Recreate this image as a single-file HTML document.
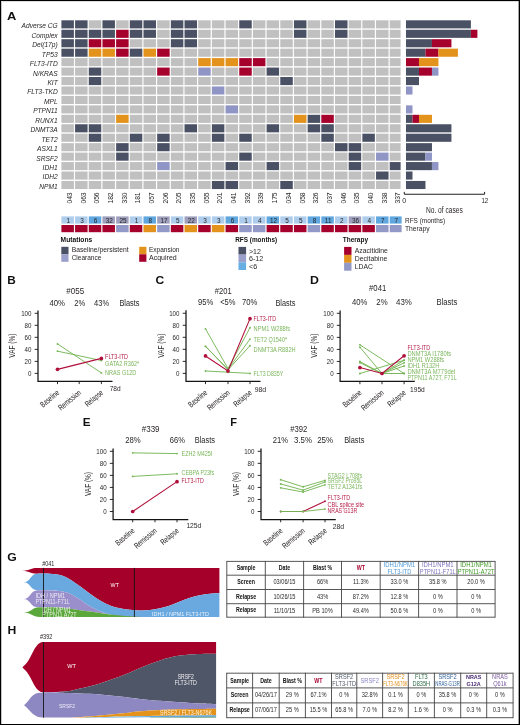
<!DOCTYPE html>
<html><head><meta charset="utf-8"><title>Figure</title><style>
html,body{margin:0;padding:0;background:#fff;}
body{width:520px;height:725px;overflow:hidden;position:relative;}
svg{position:absolute;left:0;top:0;display:block;will-change:transform;}
svg text{font-family:"Liberation Sans", sans-serif;}
</style></head><body>
<svg width="520" height="725" viewBox="0 0 520 725">
<rect width="520" height="725" fill="#fff"/>
<text x="6.95" y="20.30" font-size="11.8" fill="#111" font-weight="bold" textLength="9.31" lengthAdjust="spacingAndGlyphs" >A</text>
<rect x="61.40" y="20.30" width="12.50" height="8.10" fill="#4b5165" />
<rect x="75.08" y="20.30" width="12.50" height="8.10" fill="#4b5165" />
<rect x="88.76" y="20.30" width="12.50" height="8.10" fill="#c0c0c0" />
<rect x="102.44" y="20.30" width="12.50" height="8.10" fill="#4b5165" />
<rect x="116.12" y="20.30" width="12.50" height="8.10" fill="#c0c0c0" />
<rect x="129.80" y="20.30" width="12.50" height="8.10" fill="#4b5165" />
<rect x="143.48" y="20.30" width="12.50" height="8.10" fill="#4b5165" />
<rect x="157.16" y="20.30" width="12.50" height="8.10" fill="#c0c0c0" />
<rect x="170.84" y="20.30" width="12.50" height="8.10" fill="#4b5165" />
<rect x="184.52" y="20.30" width="12.50" height="8.10" fill="#4b5165" />
<rect x="198.20" y="20.30" width="12.50" height="8.10" fill="#c0c0c0" />
<rect x="211.88" y="20.30" width="12.50" height="8.10" fill="#c0c0c0" />
<rect x="225.56" y="20.30" width="12.50" height="8.10" fill="#c0c0c0" />
<rect x="239.24" y="20.30" width="12.50" height="8.10" fill="#4b5165" />
<rect x="252.92" y="20.30" width="12.50" height="8.10" fill="#c0c0c0" />
<rect x="266.60" y="20.30" width="12.50" height="8.10" fill="#c0c0c0" />
<rect x="280.28" y="20.30" width="12.50" height="8.10" fill="#c0c0c0" />
<rect x="293.96" y="20.30" width="12.50" height="8.10" fill="#4b5165" />
<rect x="307.64" y="20.30" width="12.50" height="8.10" fill="#c0c0c0" />
<rect x="321.32" y="20.30" width="12.50" height="8.10" fill="#c0c0c0" />
<rect x="335.00" y="20.30" width="12.50" height="8.10" fill="#4b5165" />
<rect x="348.68" y="20.30" width="12.50" height="8.10" fill="#c0c0c0" />
<rect x="362.36" y="20.30" width="12.50" height="8.10" fill="#c0c0c0" />
<rect x="376.04" y="20.30" width="12.50" height="8.10" fill="#c0c0c0" />
<rect x="389.72" y="20.30" width="10.90" height="8.10" fill="#c0c0c0" />
<text x="57.70" y="28.25" font-size="6.8" fill="#231f20" text-anchor="end" font-style="italic" textLength="36.11" lengthAdjust="spacingAndGlyphs" >Adverse CG</text>
<rect x="61.40" y="29.75" width="12.50" height="8.10" fill="#4b5165" />
<rect x="75.08" y="29.75" width="12.50" height="8.10" fill="#4b5165" />
<rect x="88.76" y="29.75" width="12.50" height="8.10" fill="#4b5165" />
<rect x="102.44" y="29.75" width="12.50" height="8.10" fill="#4b5165" />
<rect x="116.12" y="29.75" width="12.50" height="8.10" fill="#a6002c" />
<rect x="129.80" y="29.75" width="12.50" height="8.10" fill="#4b5165" />
<rect x="143.48" y="29.75" width="12.50" height="8.10" fill="#4b5165" />
<rect x="157.16" y="29.75" width="12.50" height="8.10" fill="#c0c0c0" />
<rect x="170.84" y="29.75" width="12.50" height="8.10" fill="#4b5165" />
<rect x="184.52" y="29.75" width="12.50" height="8.10" fill="#4b5165" />
<rect x="198.20" y="29.75" width="12.50" height="8.10" fill="#c0c0c0" />
<rect x="211.88" y="29.75" width="12.50" height="8.10" fill="#c0c0c0" />
<rect x="225.56" y="29.75" width="12.50" height="8.10" fill="#c0c0c0" />
<rect x="239.24" y="29.75" width="12.50" height="8.10" fill="#c0c0c0" />
<rect x="252.92" y="29.75" width="12.50" height="8.10" fill="#c0c0c0" />
<rect x="266.60" y="29.75" width="12.50" height="8.10" fill="#c0c0c0" />
<rect x="280.28" y="29.75" width="12.50" height="8.10" fill="#c0c0c0" />
<rect x="293.96" y="29.75" width="12.50" height="8.10" fill="#4b5165" />
<rect x="307.64" y="29.75" width="12.50" height="8.10" fill="#c0c0c0" />
<rect x="321.32" y="29.75" width="12.50" height="8.10" fill="#c0c0c0" />
<rect x="335.00" y="29.75" width="12.50" height="8.10" fill="#4b5165" />
<rect x="348.68" y="29.75" width="12.50" height="8.10" fill="#c0c0c0" />
<rect x="362.36" y="29.75" width="12.50" height="8.10" fill="#c0c0c0" />
<rect x="376.04" y="29.75" width="12.50" height="8.10" fill="#c0c0c0" />
<rect x="389.72" y="29.75" width="10.90" height="8.10" fill="#c0c0c0" />
<text x="57.70" y="37.70" font-size="6.8" fill="#231f20" text-anchor="end" font-style="italic" textLength="26.16" lengthAdjust="spacingAndGlyphs" >Complex</text>
<rect x="61.40" y="39.20" width="12.50" height="8.10" fill="#4b5165" />
<rect x="75.08" y="39.20" width="12.50" height="8.10" fill="#4b5165" />
<rect x="88.76" y="39.20" width="12.50" height="8.10" fill="#a6002c" />
<rect x="102.44" y="39.20" width="12.50" height="8.10" fill="#a6002c" />
<rect x="116.12" y="39.20" width="12.50" height="8.10" fill="#a6002c" />
<rect x="129.80" y="39.20" width="12.50" height="8.10" fill="#c0c0c0" />
<rect x="143.48" y="39.20" width="12.50" height="8.10" fill="#c0c0c0" />
<rect x="157.16" y="39.20" width="12.50" height="8.10" fill="#c0c0c0" />
<rect x="170.84" y="39.20" width="12.50" height="8.10" fill="#4b5165" />
<rect x="184.52" y="39.20" width="12.50" height="8.10" fill="#4b5165" />
<rect x="198.20" y="39.20" width="12.50" height="8.10" fill="#c0c0c0" />
<rect x="211.88" y="39.20" width="12.50" height="8.10" fill="#c0c0c0" />
<rect x="225.56" y="39.20" width="12.50" height="8.10" fill="#c0c0c0" />
<rect x="239.24" y="39.20" width="12.50" height="8.10" fill="#c0c0c0" />
<rect x="252.92" y="39.20" width="12.50" height="8.10" fill="#c0c0c0" />
<rect x="266.60" y="39.20" width="12.50" height="8.10" fill="#c0c0c0" />
<rect x="280.28" y="39.20" width="12.50" height="8.10" fill="#c0c0c0" />
<rect x="293.96" y="39.20" width="12.50" height="8.10" fill="#c0c0c0" />
<rect x="307.64" y="39.20" width="12.50" height="8.10" fill="#c0c0c0" />
<rect x="321.32" y="39.20" width="12.50" height="8.10" fill="#c0c0c0" />
<rect x="335.00" y="39.20" width="12.50" height="8.10" fill="#c0c0c0" />
<rect x="348.68" y="39.20" width="12.50" height="8.10" fill="#c0c0c0" />
<rect x="362.36" y="39.20" width="12.50" height="8.10" fill="#c0c0c0" />
<rect x="376.04" y="39.20" width="12.50" height="8.10" fill="#c0c0c0" />
<rect x="389.72" y="39.20" width="10.90" height="8.10" fill="#c0c0c0" />
<text x="57.70" y="47.15" font-size="6.8" fill="#231f20" text-anchor="end" font-style="italic" textLength="25.43" lengthAdjust="spacingAndGlyphs" >Del(17p)</text>
<rect x="61.40" y="48.65" width="12.50" height="8.10" fill="#4b5165" />
<rect x="75.08" y="48.65" width="12.50" height="8.10" fill="#4b5165" />
<rect x="88.76" y="48.65" width="12.50" height="8.10" fill="#e3931b" />
<rect x="102.44" y="48.65" width="12.50" height="8.10" fill="#e3931b" />
<rect x="116.12" y="48.65" width="12.50" height="8.10" fill="#a6002c" />
<rect x="129.80" y="48.65" width="12.50" height="8.10" fill="#4b5165" />
<rect x="143.48" y="48.65" width="12.50" height="8.10" fill="#e3931b" />
<rect x="157.16" y="48.65" width="12.50" height="8.10" fill="#a6002c" />
<rect x="170.84" y="48.65" width="12.50" height="8.10" fill="#c0c0c0" />
<rect x="184.52" y="48.65" width="12.50" height="8.10" fill="#c0c0c0" />
<rect x="198.20" y="48.65" width="12.50" height="8.10" fill="#c0c0c0" />
<rect x="211.88" y="48.65" width="12.50" height="8.10" fill="#c0c0c0" />
<rect x="225.56" y="48.65" width="12.50" height="8.10" fill="#c0c0c0" />
<rect x="239.24" y="48.65" width="12.50" height="8.10" fill="#c0c0c0" />
<rect x="252.92" y="48.65" width="12.50" height="8.10" fill="#c0c0c0" />
<rect x="266.60" y="48.65" width="12.50" height="8.10" fill="#c0c0c0" />
<rect x="280.28" y="48.65" width="12.50" height="8.10" fill="#c0c0c0" />
<rect x="293.96" y="48.65" width="12.50" height="8.10" fill="#c0c0c0" />
<rect x="307.64" y="48.65" width="12.50" height="8.10" fill="#c0c0c0" />
<rect x="321.32" y="48.65" width="12.50" height="8.10" fill="#c0c0c0" />
<rect x="335.00" y="48.65" width="12.50" height="8.10" fill="#c0c0c0" />
<rect x="348.68" y="48.65" width="12.50" height="8.10" fill="#c0c0c0" />
<rect x="362.36" y="48.65" width="12.50" height="8.10" fill="#c0c0c0" />
<rect x="376.04" y="48.65" width="12.50" height="8.10" fill="#c0c0c0" />
<rect x="389.72" y="48.65" width="10.90" height="8.10" fill="#c0c0c0" />
<text x="57.70" y="56.60" font-size="6.8" fill="#231f20" text-anchor="end" font-style="italic" textLength="15.85" lengthAdjust="spacingAndGlyphs" >TP53</text>
<rect x="61.40" y="58.10" width="12.50" height="8.10" fill="#c0c0c0" />
<rect x="75.08" y="58.10" width="12.50" height="8.10" fill="#c0c0c0" />
<rect x="88.76" y="58.10" width="12.50" height="8.10" fill="#c0c0c0" />
<rect x="102.44" y="58.10" width="12.50" height="8.10" fill="#c0c0c0" />
<rect x="116.12" y="58.10" width="12.50" height="8.10" fill="#c0c0c0" />
<rect x="129.80" y="58.10" width="12.50" height="8.10" fill="#c0c0c0" />
<rect x="143.48" y="58.10" width="12.50" height="8.10" fill="#c0c0c0" />
<rect x="157.16" y="58.10" width="12.50" height="8.10" fill="#c0c0c0" />
<rect x="170.84" y="58.10" width="12.50" height="8.10" fill="#c0c0c0" />
<rect x="184.52" y="58.10" width="12.50" height="8.10" fill="#c0c0c0" />
<rect x="198.20" y="58.10" width="12.50" height="8.10" fill="#e3931b" />
<rect x="211.88" y="58.10" width="12.50" height="8.10" fill="#e3931b" />
<rect x="225.56" y="58.10" width="12.50" height="8.10" fill="#e3931b" />
<rect x="239.24" y="58.10" width="12.50" height="8.10" fill="#a6002c" />
<rect x="252.92" y="58.10" width="12.50" height="8.10" fill="#a6002c" />
<rect x="266.60" y="58.10" width="12.50" height="8.10" fill="#c0c0c0" />
<rect x="280.28" y="58.10" width="12.50" height="8.10" fill="#c0c0c0" />
<rect x="293.96" y="58.10" width="12.50" height="8.10" fill="#c0c0c0" />
<rect x="307.64" y="58.10" width="12.50" height="8.10" fill="#c0c0c0" />
<rect x="321.32" y="58.10" width="12.50" height="8.10" fill="#c0c0c0" />
<rect x="335.00" y="58.10" width="12.50" height="8.10" fill="#c0c0c0" />
<rect x="348.68" y="58.10" width="12.50" height="8.10" fill="#c0c0c0" />
<rect x="362.36" y="58.10" width="12.50" height="8.10" fill="#c0c0c0" />
<rect x="376.04" y="58.10" width="12.50" height="8.10" fill="#c0c0c0" />
<rect x="389.72" y="58.10" width="10.90" height="8.10" fill="#c0c0c0" />
<text x="57.70" y="66.05" font-size="6.8" fill="#231f20" text-anchor="end" font-style="italic" textLength="27.87" lengthAdjust="spacingAndGlyphs" >FLT3-ITD</text>
<rect x="61.40" y="67.55" width="12.50" height="8.10" fill="#c0c0c0" />
<rect x="75.08" y="67.55" width="12.50" height="8.10" fill="#c0c0c0" />
<rect x="88.76" y="67.55" width="12.50" height="8.10" fill="#4b5165" />
<rect x="102.44" y="67.55" width="12.50" height="8.10" fill="#c0c0c0" />
<rect x="116.12" y="67.55" width="12.50" height="8.10" fill="#c0c0c0" />
<rect x="129.80" y="67.55" width="12.50" height="8.10" fill="#c0c0c0" />
<rect x="143.48" y="67.55" width="12.50" height="8.10" fill="#c0c0c0" />
<rect x="157.16" y="67.55" width="12.50" height="8.10" fill="#a6002c" />
<rect x="170.84" y="67.55" width="12.50" height="8.10" fill="#c0c0c0" />
<rect x="184.52" y="67.55" width="12.50" height="8.10" fill="#c0c0c0" />
<rect x="198.20" y="67.55" width="12.50" height="8.10" fill="#8f96c6" />
<rect x="211.88" y="67.55" width="12.50" height="8.10" fill="#c0c0c0" />
<rect x="225.56" y="67.55" width="12.50" height="8.10" fill="#c0c0c0" />
<rect x="239.24" y="67.55" width="12.50" height="8.10" fill="#a6002c" />
<rect x="252.92" y="67.55" width="12.50" height="8.10" fill="#c0c0c0" />
<rect x="266.60" y="67.55" width="12.50" height="8.10" fill="#4b5165" />
<rect x="280.28" y="67.55" width="12.50" height="8.10" fill="#c0c0c0" />
<rect x="293.96" y="67.55" width="12.50" height="8.10" fill="#c0c0c0" />
<rect x="307.64" y="67.55" width="12.50" height="8.10" fill="#c0c0c0" />
<rect x="321.32" y="67.55" width="12.50" height="8.10" fill="#c0c0c0" />
<rect x="335.00" y="67.55" width="12.50" height="8.10" fill="#c0c0c0" />
<rect x="348.68" y="67.55" width="12.50" height="8.10" fill="#c0c0c0" />
<rect x="362.36" y="67.55" width="12.50" height="8.10" fill="#c0c0c0" />
<rect x="376.04" y="67.55" width="12.50" height="8.10" fill="#c0c0c0" />
<rect x="389.72" y="67.55" width="10.90" height="8.10" fill="#c0c0c0" />
<text x="57.70" y="75.50" font-size="6.8" fill="#231f20" text-anchor="end" font-style="italic" textLength="24.68" lengthAdjust="spacingAndGlyphs" >N/KRAS</text>
<rect x="61.40" y="77.00" width="12.50" height="8.10" fill="#c0c0c0" />
<rect x="75.08" y="77.00" width="12.50" height="8.10" fill="#c0c0c0" />
<rect x="88.76" y="77.00" width="12.50" height="8.10" fill="#4b5165" />
<rect x="102.44" y="77.00" width="12.50" height="8.10" fill="#c0c0c0" />
<rect x="116.12" y="77.00" width="12.50" height="8.10" fill="#c0c0c0" />
<rect x="129.80" y="77.00" width="12.50" height="8.10" fill="#c0c0c0" />
<rect x="143.48" y="77.00" width="12.50" height="8.10" fill="#c0c0c0" />
<rect x="157.16" y="77.00" width="12.50" height="8.10" fill="#c0c0c0" />
<rect x="170.84" y="77.00" width="12.50" height="8.10" fill="#c0c0c0" />
<rect x="184.52" y="77.00" width="12.50" height="8.10" fill="#c0c0c0" />
<rect x="198.20" y="77.00" width="12.50" height="8.10" fill="#c0c0c0" />
<rect x="211.88" y="77.00" width="12.50" height="8.10" fill="#c0c0c0" />
<rect x="225.56" y="77.00" width="12.50" height="8.10" fill="#c0c0c0" />
<rect x="239.24" y="77.00" width="12.50" height="8.10" fill="#c0c0c0" />
<rect x="252.92" y="77.00" width="12.50" height="8.10" fill="#c0c0c0" />
<rect x="266.60" y="77.00" width="12.50" height="8.10" fill="#c0c0c0" />
<rect x="280.28" y="77.00" width="12.50" height="8.10" fill="#4b5165" />
<rect x="293.96" y="77.00" width="12.50" height="8.10" fill="#c0c0c0" />
<rect x="307.64" y="77.00" width="12.50" height="8.10" fill="#c0c0c0" />
<rect x="321.32" y="77.00" width="12.50" height="8.10" fill="#c0c0c0" />
<rect x="335.00" y="77.00" width="12.50" height="8.10" fill="#c0c0c0" />
<rect x="348.68" y="77.00" width="12.50" height="8.10" fill="#c0c0c0" />
<rect x="362.36" y="77.00" width="12.50" height="8.10" fill="#c0c0c0" />
<rect x="376.04" y="77.00" width="12.50" height="8.10" fill="#c0c0c0" />
<rect x="389.72" y="77.00" width="10.90" height="8.10" fill="#c0c0c0" />
<text x="57.70" y="84.95" font-size="6.8" fill="#231f20" text-anchor="end" font-style="italic" textLength="10.31" lengthAdjust="spacingAndGlyphs" >KIT</text>
<rect x="61.40" y="86.45" width="12.50" height="8.10" fill="#c0c0c0" />
<rect x="75.08" y="86.45" width="12.50" height="8.10" fill="#c0c0c0" />
<rect x="88.76" y="86.45" width="12.50" height="8.10" fill="#c0c0c0" />
<rect x="102.44" y="86.45" width="12.50" height="8.10" fill="#c0c0c0" />
<rect x="116.12" y="86.45" width="12.50" height="8.10" fill="#c0c0c0" />
<rect x="129.80" y="86.45" width="12.50" height="8.10" fill="#c0c0c0" />
<rect x="143.48" y="86.45" width="12.50" height="8.10" fill="#c0c0c0" />
<rect x="157.16" y="86.45" width="12.50" height="8.10" fill="#c0c0c0" />
<rect x="170.84" y="86.45" width="12.50" height="8.10" fill="#c0c0c0" />
<rect x="184.52" y="86.45" width="12.50" height="8.10" fill="#c0c0c0" />
<rect x="198.20" y="86.45" width="12.50" height="8.10" fill="#c0c0c0" />
<rect x="211.88" y="86.45" width="12.50" height="8.10" fill="#8f96c6" />
<rect x="225.56" y="86.45" width="12.50" height="8.10" fill="#c0c0c0" />
<rect x="239.24" y="86.45" width="12.50" height="8.10" fill="#c0c0c0" />
<rect x="252.92" y="86.45" width="12.50" height="8.10" fill="#c0c0c0" />
<rect x="266.60" y="86.45" width="12.50" height="8.10" fill="#c0c0c0" />
<rect x="280.28" y="86.45" width="12.50" height="8.10" fill="#c0c0c0" />
<rect x="293.96" y="86.45" width="12.50" height="8.10" fill="#c0c0c0" />
<rect x="307.64" y="86.45" width="12.50" height="8.10" fill="#c0c0c0" />
<rect x="321.32" y="86.45" width="12.50" height="8.10" fill="#c0c0c0" />
<rect x="335.00" y="86.45" width="12.50" height="8.10" fill="#c0c0c0" />
<rect x="348.68" y="86.45" width="12.50" height="8.10" fill="#c0c0c0" />
<rect x="362.36" y="86.45" width="12.50" height="8.10" fill="#c0c0c0" />
<rect x="376.04" y="86.45" width="12.50" height="8.10" fill="#c0c0c0" />
<rect x="389.72" y="86.45" width="10.90" height="8.10" fill="#c0c0c0" />
<text x="57.70" y="94.40" font-size="6.8" fill="#231f20" text-anchor="end" font-style="italic" textLength="30.45" lengthAdjust="spacingAndGlyphs" >FLT3-TKD</text>
<rect x="61.40" y="95.90" width="12.50" height="8.10" fill="#c0c0c0" />
<rect x="75.08" y="95.90" width="12.50" height="8.10" fill="#c0c0c0" />
<rect x="88.76" y="95.90" width="12.50" height="8.10" fill="#c0c0c0" />
<rect x="102.44" y="95.90" width="12.50" height="8.10" fill="#c0c0c0" />
<rect x="116.12" y="95.90" width="12.50" height="8.10" fill="#c0c0c0" />
<rect x="129.80" y="95.90" width="12.50" height="8.10" fill="#c0c0c0" />
<rect x="143.48" y="95.90" width="12.50" height="8.10" fill="#c0c0c0" />
<rect x="157.16" y="95.90" width="12.50" height="8.10" fill="#c0c0c0" />
<rect x="170.84" y="95.90" width="12.50" height="8.10" fill="#c0c0c0" />
<rect x="184.52" y="95.90" width="12.50" height="8.10" fill="#c0c0c0" />
<rect x="198.20" y="95.90" width="12.50" height="8.10" fill="#c0c0c0" />
<rect x="211.88" y="95.90" width="12.50" height="8.10" fill="#c0c0c0" />
<rect x="225.56" y="95.90" width="12.50" height="8.10" fill="#c0c0c0" />
<rect x="239.24" y="95.90" width="12.50" height="8.10" fill="#c0c0c0" />
<rect x="252.92" y="95.90" width="12.50" height="8.10" fill="#c0c0c0" />
<rect x="266.60" y="95.90" width="12.50" height="8.10" fill="#c0c0c0" />
<rect x="280.28" y="95.90" width="12.50" height="8.10" fill="#c0c0c0" />
<rect x="293.96" y="95.90" width="12.50" height="8.10" fill="#c0c0c0" />
<rect x="307.64" y="95.90" width="12.50" height="8.10" fill="#c0c0c0" />
<rect x="321.32" y="95.90" width="12.50" height="8.10" fill="#c0c0c0" />
<rect x="335.00" y="95.90" width="12.50" height="8.10" fill="#c0c0c0" />
<rect x="348.68" y="95.90" width="12.50" height="8.10" fill="#c0c0c0" />
<rect x="362.36" y="95.90" width="12.50" height="8.10" fill="#c0c0c0" />
<rect x="376.04" y="95.90" width="12.50" height="8.10" fill="#c0c0c0" />
<rect x="389.72" y="95.90" width="10.90" height="8.10" fill="#c0c0c0" />
<text x="57.70" y="103.85" font-size="6.8" fill="#231f20" text-anchor="end" font-style="italic" textLength="13.63" lengthAdjust="spacingAndGlyphs" >MPL</text>
<rect x="61.40" y="105.35" width="12.50" height="8.10" fill="#c0c0c0" />
<rect x="75.08" y="105.35" width="12.50" height="8.10" fill="#c0c0c0" />
<rect x="88.76" y="105.35" width="12.50" height="8.10" fill="#c0c0c0" />
<rect x="102.44" y="105.35" width="12.50" height="8.10" fill="#c0c0c0" />
<rect x="116.12" y="105.35" width="12.50" height="8.10" fill="#c0c0c0" />
<rect x="129.80" y="105.35" width="12.50" height="8.10" fill="#c0c0c0" />
<rect x="143.48" y="105.35" width="12.50" height="8.10" fill="#c0c0c0" />
<rect x="157.16" y="105.35" width="12.50" height="8.10" fill="#c0c0c0" />
<rect x="170.84" y="105.35" width="12.50" height="8.10" fill="#c0c0c0" />
<rect x="184.52" y="105.35" width="12.50" height="8.10" fill="#c0c0c0" />
<rect x="198.20" y="105.35" width="12.50" height="8.10" fill="#c0c0c0" />
<rect x="211.88" y="105.35" width="12.50" height="8.10" fill="#c0c0c0" />
<rect x="225.56" y="105.35" width="12.50" height="8.10" fill="#8f96c6" />
<rect x="239.24" y="105.35" width="12.50" height="8.10" fill="#c0c0c0" />
<rect x="252.92" y="105.35" width="12.50" height="8.10" fill="#c0c0c0" />
<rect x="266.60" y="105.35" width="12.50" height="8.10" fill="#c0c0c0" />
<rect x="280.28" y="105.35" width="12.50" height="8.10" fill="#c0c0c0" />
<rect x="293.96" y="105.35" width="12.50" height="8.10" fill="#c0c0c0" />
<rect x="307.64" y="105.35" width="12.50" height="8.10" fill="#c0c0c0" />
<rect x="321.32" y="105.35" width="12.50" height="8.10" fill="#c0c0c0" />
<rect x="335.00" y="105.35" width="12.50" height="8.10" fill="#c0c0c0" />
<rect x="348.68" y="105.35" width="12.50" height="8.10" fill="#c0c0c0" />
<rect x="362.36" y="105.35" width="12.50" height="8.10" fill="#c0c0c0" />
<rect x="376.04" y="105.35" width="12.50" height="8.10" fill="#c0c0c0" />
<rect x="389.72" y="105.35" width="10.90" height="8.10" fill="#c0c0c0" />
<text x="57.70" y="113.30" font-size="6.8" fill="#231f20" text-anchor="end" font-style="italic" textLength="24.56" lengthAdjust="spacingAndGlyphs" >PTPN11</text>
<rect x="61.40" y="114.80" width="12.50" height="8.10" fill="#c0c0c0" />
<rect x="75.08" y="114.80" width="12.50" height="8.10" fill="#c0c0c0" />
<rect x="88.76" y="114.80" width="12.50" height="8.10" fill="#c0c0c0" />
<rect x="102.44" y="114.80" width="12.50" height="8.10" fill="#c0c0c0" />
<rect x="116.12" y="114.80" width="12.50" height="8.10" fill="#e3931b" />
<rect x="129.80" y="114.80" width="12.50" height="8.10" fill="#c0c0c0" />
<rect x="143.48" y="114.80" width="12.50" height="8.10" fill="#c0c0c0" />
<rect x="157.16" y="114.80" width="12.50" height="8.10" fill="#c0c0c0" />
<rect x="170.84" y="114.80" width="12.50" height="8.10" fill="#c0c0c0" />
<rect x="184.52" y="114.80" width="12.50" height="8.10" fill="#c0c0c0" />
<rect x="198.20" y="114.80" width="12.50" height="8.10" fill="#c0c0c0" />
<rect x="211.88" y="114.80" width="12.50" height="8.10" fill="#c0c0c0" />
<rect x="225.56" y="114.80" width="12.50" height="8.10" fill="#c0c0c0" />
<rect x="239.24" y="114.80" width="12.50" height="8.10" fill="#c0c0c0" />
<rect x="252.92" y="114.80" width="12.50" height="8.10" fill="#c0c0c0" />
<rect x="266.60" y="114.80" width="12.50" height="8.10" fill="#c0c0c0" />
<rect x="280.28" y="114.80" width="12.50" height="8.10" fill="#c0c0c0" />
<rect x="293.96" y="114.80" width="12.50" height="8.10" fill="#e3931b" />
<rect x="307.64" y="114.80" width="12.50" height="8.10" fill="#4b5165" />
<rect x="321.32" y="114.80" width="12.50" height="8.10" fill="#a6002c" />
<rect x="335.00" y="114.80" width="12.50" height="8.10" fill="#c0c0c0" />
<rect x="348.68" y="114.80" width="12.50" height="8.10" fill="#c0c0c0" />
<rect x="362.36" y="114.80" width="12.50" height="8.10" fill="#c0c0c0" />
<rect x="376.04" y="114.80" width="12.50" height="8.10" fill="#c0c0c0" />
<rect x="389.72" y="114.80" width="10.90" height="8.10" fill="#c0c0c0" />
<text x="57.70" y="122.75" font-size="6.8" fill="#231f20" text-anchor="end" font-style="italic" textLength="22.47" lengthAdjust="spacingAndGlyphs" >RUNX1</text>
<rect x="61.40" y="124.25" width="12.50" height="8.10" fill="#c0c0c0" />
<rect x="75.08" y="124.25" width="12.50" height="8.10" fill="#4b5165" />
<rect x="88.76" y="124.25" width="12.50" height="8.10" fill="#4b5165" />
<rect x="102.44" y="124.25" width="12.50" height="8.10" fill="#c0c0c0" />
<rect x="116.12" y="124.25" width="12.50" height="8.10" fill="#c0c0c0" />
<rect x="129.80" y="124.25" width="12.50" height="8.10" fill="#c0c0c0" />
<rect x="143.48" y="124.25" width="12.50" height="8.10" fill="#c0c0c0" />
<rect x="157.16" y="124.25" width="12.50" height="8.10" fill="#c0c0c0" />
<rect x="170.84" y="124.25" width="12.50" height="8.10" fill="#c0c0c0" />
<rect x="184.52" y="124.25" width="12.50" height="8.10" fill="#4b5165" />
<rect x="198.20" y="124.25" width="12.50" height="8.10" fill="#c0c0c0" />
<rect x="211.88" y="124.25" width="12.50" height="8.10" fill="#4b5165" />
<rect x="225.56" y="124.25" width="12.50" height="8.10" fill="#c0c0c0" />
<rect x="239.24" y="124.25" width="12.50" height="8.10" fill="#c0c0c0" />
<rect x="252.92" y="124.25" width="12.50" height="8.10" fill="#c0c0c0" />
<rect x="266.60" y="124.25" width="12.50" height="8.10" fill="#4b5165" />
<rect x="280.28" y="124.25" width="12.50" height="8.10" fill="#c0c0c0" />
<rect x="293.96" y="124.25" width="12.50" height="8.10" fill="#c0c0c0" />
<rect x="307.64" y="124.25" width="12.50" height="8.10" fill="#4b5165" />
<rect x="321.32" y="124.25" width="12.50" height="8.10" fill="#4b5165" />
<rect x="335.00" y="124.25" width="12.50" height="8.10" fill="#c0c0c0" />
<rect x="348.68" y="124.25" width="12.50" height="8.10" fill="#c0c0c0" />
<rect x="362.36" y="124.25" width="12.50" height="8.10" fill="#c0c0c0" />
<rect x="376.04" y="124.25" width="12.50" height="8.10" fill="#c0c0c0" />
<rect x="389.72" y="124.25" width="10.90" height="8.10" fill="#c0c0c0" />
<text x="57.70" y="132.20" font-size="6.8" fill="#231f20" text-anchor="end" font-style="italic" textLength="27.26" lengthAdjust="spacingAndGlyphs" >DNMT3A</text>
<rect x="61.40" y="133.70" width="12.50" height="8.10" fill="#c0c0c0" />
<rect x="75.08" y="133.70" width="12.50" height="8.10" fill="#c0c0c0" />
<rect x="88.76" y="133.70" width="12.50" height="8.10" fill="#4b5165" />
<rect x="102.44" y="133.70" width="12.50" height="8.10" fill="#c0c0c0" />
<rect x="116.12" y="133.70" width="12.50" height="8.10" fill="#c0c0c0" />
<rect x="129.80" y="133.70" width="12.50" height="8.10" fill="#4b5165" />
<rect x="143.48" y="133.70" width="12.50" height="8.10" fill="#c0c0c0" />
<rect x="157.16" y="133.70" width="12.50" height="8.10" fill="#4b5165" />
<rect x="170.84" y="133.70" width="12.50" height="8.10" fill="#c0c0c0" />
<rect x="184.52" y="133.70" width="12.50" height="8.10" fill="#c0c0c0" />
<rect x="198.20" y="133.70" width="12.50" height="8.10" fill="#c0c0c0" />
<rect x="211.88" y="133.70" width="12.50" height="8.10" fill="#4b5165" />
<rect x="225.56" y="133.70" width="12.50" height="8.10" fill="#c0c0c0" />
<rect x="239.24" y="133.70" width="12.50" height="8.10" fill="#4b5165" />
<rect x="252.92" y="133.70" width="12.50" height="8.10" fill="#c0c0c0" />
<rect x="266.60" y="133.70" width="12.50" height="8.10" fill="#c0c0c0" />
<rect x="280.28" y="133.70" width="12.50" height="8.10" fill="#c0c0c0" />
<rect x="293.96" y="133.70" width="12.50" height="8.10" fill="#c0c0c0" />
<rect x="307.64" y="133.70" width="12.50" height="8.10" fill="#c0c0c0" />
<rect x="321.32" y="133.70" width="12.50" height="8.10" fill="#4b5165" />
<rect x="335.00" y="133.70" width="12.50" height="8.10" fill="#c0c0c0" />
<rect x="348.68" y="133.70" width="12.50" height="8.10" fill="#c0c0c0" />
<rect x="362.36" y="133.70" width="12.50" height="8.10" fill="#4b5165" />
<rect x="376.04" y="133.70" width="12.50" height="8.10" fill="#c0c0c0" />
<rect x="389.72" y="133.70" width="10.90" height="8.10" fill="#c0c0c0" />
<text x="57.70" y="141.65" font-size="6.8" fill="#231f20" text-anchor="end" font-style="italic" textLength="16.21" lengthAdjust="spacingAndGlyphs" >TET2</text>
<rect x="61.40" y="143.15" width="12.50" height="8.10" fill="#c0c0c0" />
<rect x="75.08" y="143.15" width="12.50" height="8.10" fill="#c0c0c0" />
<rect x="88.76" y="143.15" width="12.50" height="8.10" fill="#c0c0c0" />
<rect x="102.44" y="143.15" width="12.50" height="8.10" fill="#c0c0c0" />
<rect x="116.12" y="143.15" width="12.50" height="8.10" fill="#4b5165" />
<rect x="129.80" y="143.15" width="12.50" height="8.10" fill="#c0c0c0" />
<rect x="143.48" y="143.15" width="12.50" height="8.10" fill="#c0c0c0" />
<rect x="157.16" y="143.15" width="12.50" height="8.10" fill="#4b5165" />
<rect x="170.84" y="143.15" width="12.50" height="8.10" fill="#c0c0c0" />
<rect x="184.52" y="143.15" width="12.50" height="8.10" fill="#c0c0c0" />
<rect x="198.20" y="143.15" width="12.50" height="8.10" fill="#c0c0c0" />
<rect x="211.88" y="143.15" width="12.50" height="8.10" fill="#c0c0c0" />
<rect x="225.56" y="143.15" width="12.50" height="8.10" fill="#c0c0c0" />
<rect x="239.24" y="143.15" width="12.50" height="8.10" fill="#c0c0c0" />
<rect x="252.92" y="143.15" width="12.50" height="8.10" fill="#c0c0c0" />
<rect x="266.60" y="143.15" width="12.50" height="8.10" fill="#c0c0c0" />
<rect x="280.28" y="143.15" width="12.50" height="8.10" fill="#c0c0c0" />
<rect x="293.96" y="143.15" width="12.50" height="8.10" fill="#c0c0c0" />
<rect x="307.64" y="143.15" width="12.50" height="8.10" fill="#c0c0c0" />
<rect x="321.32" y="143.15" width="12.50" height="8.10" fill="#c0c0c0" />
<rect x="335.00" y="143.15" width="12.50" height="8.10" fill="#4b5165" />
<rect x="348.68" y="143.15" width="12.50" height="8.10" fill="#4b5165" />
<rect x="362.36" y="143.15" width="12.50" height="8.10" fill="#c0c0c0" />
<rect x="376.04" y="143.15" width="12.50" height="8.10" fill="#c0c0c0" />
<rect x="389.72" y="143.15" width="10.90" height="8.10" fill="#c0c0c0" />
<text x="57.70" y="151.10" font-size="6.8" fill="#231f20" text-anchor="end" font-style="italic" textLength="20.64" lengthAdjust="spacingAndGlyphs" >ASXL1</text>
<rect x="61.40" y="152.60" width="12.50" height="8.10" fill="#c0c0c0" />
<rect x="75.08" y="152.60" width="12.50" height="8.10" fill="#c0c0c0" />
<rect x="88.76" y="152.60" width="12.50" height="8.10" fill="#c0c0c0" />
<rect x="102.44" y="152.60" width="12.50" height="8.10" fill="#c0c0c0" />
<rect x="116.12" y="152.60" width="12.50" height="8.10" fill="#4b5165" />
<rect x="129.80" y="152.60" width="12.50" height="8.10" fill="#c0c0c0" />
<rect x="143.48" y="152.60" width="12.50" height="8.10" fill="#c0c0c0" />
<rect x="157.16" y="152.60" width="12.50" height="8.10" fill="#c0c0c0" />
<rect x="170.84" y="152.60" width="12.50" height="8.10" fill="#c0c0c0" />
<rect x="184.52" y="152.60" width="12.50" height="8.10" fill="#c0c0c0" />
<rect x="198.20" y="152.60" width="12.50" height="8.10" fill="#c0c0c0" />
<rect x="211.88" y="152.60" width="12.50" height="8.10" fill="#c0c0c0" />
<rect x="225.56" y="152.60" width="12.50" height="8.10" fill="#c0c0c0" />
<rect x="239.24" y="152.60" width="12.50" height="8.10" fill="#4b5165" />
<rect x="252.92" y="152.60" width="12.50" height="8.10" fill="#c0c0c0" />
<rect x="266.60" y="152.60" width="12.50" height="8.10" fill="#c0c0c0" />
<rect x="280.28" y="152.60" width="12.50" height="8.10" fill="#c0c0c0" />
<rect x="293.96" y="152.60" width="12.50" height="8.10" fill="#c0c0c0" />
<rect x="307.64" y="152.60" width="12.50" height="8.10" fill="#c0c0c0" />
<rect x="321.32" y="152.60" width="12.50" height="8.10" fill="#c0c0c0" />
<rect x="335.00" y="152.60" width="12.50" height="8.10" fill="#c0c0c0" />
<rect x="348.68" y="152.60" width="12.50" height="8.10" fill="#4b5165" />
<rect x="362.36" y="152.60" width="12.50" height="8.10" fill="#c0c0c0" />
<rect x="376.04" y="152.60" width="12.50" height="8.10" fill="#8f96c6" />
<rect x="389.72" y="152.60" width="10.90" height="8.10" fill="#c0c0c0" />
<text x="57.70" y="160.55" font-size="6.8" fill="#231f20" text-anchor="end" font-style="italic" textLength="21.37" lengthAdjust="spacingAndGlyphs" >SRSF2</text>
<rect x="61.40" y="162.05" width="12.50" height="8.10" fill="#c0c0c0" />
<rect x="75.08" y="162.05" width="12.50" height="8.10" fill="#c0c0c0" />
<rect x="88.76" y="162.05" width="12.50" height="8.10" fill="#c0c0c0" />
<rect x="102.44" y="162.05" width="12.50" height="8.10" fill="#c0c0c0" />
<rect x="116.12" y="162.05" width="12.50" height="8.10" fill="#c0c0c0" />
<rect x="129.80" y="162.05" width="12.50" height="8.10" fill="#c0c0c0" />
<rect x="143.48" y="162.05" width="12.50" height="8.10" fill="#c0c0c0" />
<rect x="157.16" y="162.05" width="12.50" height="8.10" fill="#8f96c6" />
<rect x="170.84" y="162.05" width="12.50" height="8.10" fill="#c0c0c0" />
<rect x="184.52" y="162.05" width="12.50" height="8.10" fill="#c0c0c0" />
<rect x="198.20" y="162.05" width="12.50" height="8.10" fill="#c0c0c0" />
<rect x="211.88" y="162.05" width="12.50" height="8.10" fill="#c0c0c0" />
<rect x="225.56" y="162.05" width="12.50" height="8.10" fill="#4b5165" />
<rect x="239.24" y="162.05" width="12.50" height="8.10" fill="#c0c0c0" />
<rect x="252.92" y="162.05" width="12.50" height="8.10" fill="#c0c0c0" />
<rect x="266.60" y="162.05" width="12.50" height="8.10" fill="#4b5165" />
<rect x="280.28" y="162.05" width="12.50" height="8.10" fill="#c0c0c0" />
<rect x="293.96" y="162.05" width="12.50" height="8.10" fill="#c0c0c0" />
<rect x="307.64" y="162.05" width="12.50" height="8.10" fill="#c0c0c0" />
<rect x="321.32" y="162.05" width="12.50" height="8.10" fill="#c0c0c0" />
<rect x="335.00" y="162.05" width="12.50" height="8.10" fill="#c0c0c0" />
<rect x="348.68" y="162.05" width="12.50" height="8.10" fill="#4b5165" />
<rect x="362.36" y="162.05" width="12.50" height="8.10" fill="#c0c0c0" />
<rect x="376.04" y="162.05" width="12.50" height="8.10" fill="#c0c0c0" />
<rect x="389.72" y="162.05" width="10.90" height="8.10" fill="#4b5165" />
<text x="57.70" y="170.00" font-size="6.8" fill="#231f20" text-anchor="end" font-style="italic" textLength="15.11" lengthAdjust="spacingAndGlyphs" >IDH1</text>
<rect x="61.40" y="171.50" width="12.50" height="8.10" fill="#c0c0c0" />
<rect x="75.08" y="171.50" width="12.50" height="8.10" fill="#c0c0c0" />
<rect x="88.76" y="171.50" width="12.50" height="8.10" fill="#c0c0c0" />
<rect x="102.44" y="171.50" width="12.50" height="8.10" fill="#c0c0c0" />
<rect x="116.12" y="171.50" width="12.50" height="8.10" fill="#c0c0c0" />
<rect x="129.80" y="171.50" width="12.50" height="8.10" fill="#c0c0c0" />
<rect x="143.48" y="171.50" width="12.50" height="8.10" fill="#c0c0c0" />
<rect x="157.16" y="171.50" width="12.50" height="8.10" fill="#c0c0c0" />
<rect x="170.84" y="171.50" width="12.50" height="8.10" fill="#c0c0c0" />
<rect x="184.52" y="171.50" width="12.50" height="8.10" fill="#c0c0c0" />
<rect x="198.20" y="171.50" width="12.50" height="8.10" fill="#c0c0c0" />
<rect x="211.88" y="171.50" width="12.50" height="8.10" fill="#c0c0c0" />
<rect x="225.56" y="171.50" width="12.50" height="8.10" fill="#c0c0c0" />
<rect x="239.24" y="171.50" width="12.50" height="8.10" fill="#c0c0c0" />
<rect x="252.92" y="171.50" width="12.50" height="8.10" fill="#c0c0c0" />
<rect x="266.60" y="171.50" width="12.50" height="8.10" fill="#c0c0c0" />
<rect x="280.28" y="171.50" width="12.50" height="8.10" fill="#c0c0c0" />
<rect x="293.96" y="171.50" width="12.50" height="8.10" fill="#c0c0c0" />
<rect x="307.64" y="171.50" width="12.50" height="8.10" fill="#c0c0c0" />
<rect x="321.32" y="171.50" width="12.50" height="8.10" fill="#c0c0c0" />
<rect x="335.00" y="171.50" width="12.50" height="8.10" fill="#c0c0c0" />
<rect x="348.68" y="171.50" width="12.50" height="8.10" fill="#c0c0c0" />
<rect x="362.36" y="171.50" width="12.50" height="8.10" fill="#c0c0c0" />
<rect x="376.04" y="171.50" width="12.50" height="8.10" fill="#4b5165" />
<rect x="389.72" y="171.50" width="10.90" height="8.10" fill="#c0c0c0" />
<text x="57.70" y="179.45" font-size="6.8" fill="#231f20" text-anchor="end" font-style="italic" textLength="15.11" lengthAdjust="spacingAndGlyphs" >IDH2</text>
<rect x="61.40" y="180.95" width="12.50" height="8.10" fill="#c0c0c0" />
<rect x="75.08" y="180.95" width="12.50" height="8.10" fill="#c0c0c0" />
<rect x="88.76" y="180.95" width="12.50" height="8.10" fill="#c0c0c0" />
<rect x="102.44" y="180.95" width="12.50" height="8.10" fill="#c0c0c0" />
<rect x="116.12" y="180.95" width="12.50" height="8.10" fill="#c0c0c0" />
<rect x="129.80" y="180.95" width="12.50" height="8.10" fill="#c0c0c0" />
<rect x="143.48" y="180.95" width="12.50" height="8.10" fill="#c0c0c0" />
<rect x="157.16" y="180.95" width="12.50" height="8.10" fill="#c0c0c0" />
<rect x="170.84" y="180.95" width="12.50" height="8.10" fill="#c0c0c0" />
<rect x="184.52" y="180.95" width="12.50" height="8.10" fill="#c0c0c0" />
<rect x="198.20" y="180.95" width="12.50" height="8.10" fill="#c0c0c0" />
<rect x="211.88" y="180.95" width="12.50" height="8.10" fill="#4b5165" />
<rect x="225.56" y="180.95" width="12.50" height="8.10" fill="#4b5165" />
<rect x="239.24" y="180.95" width="12.50" height="8.10" fill="#c0c0c0" />
<rect x="252.92" y="180.95" width="12.50" height="8.10" fill="#c0c0c0" />
<rect x="266.60" y="180.95" width="12.50" height="8.10" fill="#c0c0c0" />
<rect x="280.28" y="180.95" width="12.50" height="8.10" fill="#4b5165" />
<rect x="293.96" y="180.95" width="12.50" height="8.10" fill="#c0c0c0" />
<rect x="307.64" y="180.95" width="12.50" height="8.10" fill="#c0c0c0" />
<rect x="321.32" y="180.95" width="12.50" height="8.10" fill="#c0c0c0" />
<rect x="335.00" y="180.95" width="12.50" height="8.10" fill="#c0c0c0" />
<rect x="348.68" y="180.95" width="12.50" height="8.10" fill="#c0c0c0" />
<rect x="362.36" y="180.95" width="12.50" height="8.10" fill="#c0c0c0" />
<rect x="376.04" y="180.95" width="12.50" height="8.10" fill="#c0c0c0" />
<rect x="389.72" y="180.95" width="10.90" height="8.10" fill="#c0c0c0" />
<text x="57.70" y="188.90" font-size="6.8" fill="#231f20" text-anchor="end" font-style="italic" textLength="18.42" lengthAdjust="spacingAndGlyphs" >NPM1</text>
<text transform="translate(71.95,192.4) rotate(-90)" font-size="7.1" fill="#231f20" text-anchor="end" textLength="11.2" lengthAdjust="spacingAndGlyphs">043</text>
<text transform="translate(85.63,192.4) rotate(-90)" font-size="7.1" fill="#231f20" text-anchor="end" textLength="11.2" lengthAdjust="spacingAndGlyphs">063</text>
<text transform="translate(99.31,192.4) rotate(-90)" font-size="7.1" fill="#231f20" text-anchor="end" textLength="11.2" lengthAdjust="spacingAndGlyphs">056</text>
<text transform="translate(112.99,192.4) rotate(-90)" font-size="7.1" fill="#231f20" text-anchor="end" textLength="11.2" lengthAdjust="spacingAndGlyphs">182</text>
<text transform="translate(126.67,192.4) rotate(-90)" font-size="7.1" fill="#231f20" text-anchor="end" textLength="11.2" lengthAdjust="spacingAndGlyphs">330</text>
<text transform="translate(140.35,192.4) rotate(-90)" font-size="7.1" fill="#231f20" text-anchor="end" textLength="11.2" lengthAdjust="spacingAndGlyphs">181</text>
<text transform="translate(154.03,192.4) rotate(-90)" font-size="7.1" fill="#231f20" text-anchor="end" textLength="11.2" lengthAdjust="spacingAndGlyphs">057</text>
<text transform="translate(167.71,192.4) rotate(-90)" font-size="7.1" fill="#231f20" text-anchor="end" textLength="11.2" lengthAdjust="spacingAndGlyphs">206</text>
<text transform="translate(181.39,192.4) rotate(-90)" font-size="7.1" fill="#231f20" text-anchor="end" textLength="11.2" lengthAdjust="spacingAndGlyphs">205</text>
<text transform="translate(195.07,192.4) rotate(-90)" font-size="7.1" fill="#231f20" text-anchor="end" textLength="11.2" lengthAdjust="spacingAndGlyphs">335</text>
<text transform="translate(208.75,192.4) rotate(-90)" font-size="7.1" fill="#231f20" text-anchor="end" textLength="11.2" lengthAdjust="spacingAndGlyphs">055</text>
<text transform="translate(222.43,192.4) rotate(-90)" font-size="7.1" fill="#231f20" text-anchor="end" textLength="11.2" lengthAdjust="spacingAndGlyphs">201</text>
<text transform="translate(236.11,192.4) rotate(-90)" font-size="7.1" fill="#231f20" text-anchor="end" textLength="11.2" lengthAdjust="spacingAndGlyphs">041</text>
<text transform="translate(249.79,192.4) rotate(-90)" font-size="7.1" fill="#231f20" text-anchor="end" textLength="11.2" lengthAdjust="spacingAndGlyphs">392</text>
<text transform="translate(263.47,192.4) rotate(-90)" font-size="7.1" fill="#231f20" text-anchor="end" textLength="11.2" lengthAdjust="spacingAndGlyphs">339</text>
<text transform="translate(277.15,192.4) rotate(-90)" font-size="7.1" fill="#231f20" text-anchor="end" textLength="11.2" lengthAdjust="spacingAndGlyphs">175</text>
<text transform="translate(290.83,192.4) rotate(-90)" font-size="7.1" fill="#231f20" text-anchor="end" textLength="11.2" lengthAdjust="spacingAndGlyphs">034</text>
<text transform="translate(304.51,192.4) rotate(-90)" font-size="7.1" fill="#231f20" text-anchor="end" textLength="11.2" lengthAdjust="spacingAndGlyphs">058</text>
<text transform="translate(318.19,192.4) rotate(-90)" font-size="7.1" fill="#231f20" text-anchor="end" textLength="11.2" lengthAdjust="spacingAndGlyphs">326</text>
<text transform="translate(331.87,192.4) rotate(-90)" font-size="7.1" fill="#231f20" text-anchor="end" textLength="11.2" lengthAdjust="spacingAndGlyphs">037</text>
<text transform="translate(345.55,192.4) rotate(-90)" font-size="7.1" fill="#231f20" text-anchor="end" textLength="11.2" lengthAdjust="spacingAndGlyphs">046</text>
<text transform="translate(359.23,192.4) rotate(-90)" font-size="7.1" fill="#231f20" text-anchor="end" textLength="11.2" lengthAdjust="spacingAndGlyphs">035</text>
<text transform="translate(372.91,192.4) rotate(-90)" font-size="7.1" fill="#231f20" text-anchor="end" textLength="11.2" lengthAdjust="spacingAndGlyphs">040</text>
<text transform="translate(386.59,192.4) rotate(-90)" font-size="7.1" fill="#231f20" text-anchor="end" textLength="11.2" lengthAdjust="spacingAndGlyphs">338</text>
<text transform="translate(400.27,192.4) rotate(-90)" font-size="7.1" fill="#231f20" text-anchor="end" textLength="11.2" lengthAdjust="spacingAndGlyphs">337</text>
<rect x="406.00" y="20.30" width="64.90" height="8.10" fill="#4b5165" />
<rect x="406.00" y="29.75" width="64.90" height="8.10" fill="#4b5165" />
<rect x="470.90" y="29.75" width="6.49" height="8.10" fill="#a6002c" />
<rect x="406.00" y="39.20" width="25.96" height="8.10" fill="#4b5165" />
<rect x="431.96" y="39.20" width="19.47" height="8.10" fill="#a6002c" />
<rect x="406.00" y="48.65" width="19.47" height="8.10" fill="#4b5165" />
<rect x="425.47" y="48.65" width="12.98" height="8.10" fill="#a6002c" />
<rect x="438.45" y="48.65" width="19.47" height="8.10" fill="#e3931b" />
<rect x="406.00" y="58.10" width="12.98" height="8.10" fill="#a6002c" />
<rect x="418.98" y="58.10" width="19.47" height="8.10" fill="#e3931b" />
<rect x="406.00" y="67.55" width="12.98" height="8.10" fill="#4b5165" />
<rect x="418.98" y="67.55" width="12.98" height="8.10" fill="#a6002c" />
<rect x="431.96" y="67.55" width="6.49" height="8.10" fill="#8f96c6" />
<rect x="406.00" y="77.00" width="12.98" height="8.10" fill="#4b5165" />
<rect x="406.00" y="86.45" width="6.49" height="8.10" fill="#8f96c6" />
<rect x="406.00" y="105.35" width="6.49" height="8.10" fill="#8f96c6" />
<rect x="406.00" y="114.80" width="6.49" height="8.10" fill="#4b5165" />
<rect x="412.49" y="114.80" width="6.49" height="8.10" fill="#a6002c" />
<rect x="418.98" y="114.80" width="12.98" height="8.10" fill="#e3931b" />
<rect x="406.00" y="124.25" width="45.43" height="8.10" fill="#4b5165" />
<rect x="406.00" y="133.70" width="45.43" height="8.10" fill="#4b5165" />
<rect x="406.00" y="143.15" width="25.96" height="8.10" fill="#4b5165" />
<rect x="406.00" y="152.60" width="19.47" height="8.10" fill="#4b5165" />
<rect x="425.47" y="152.60" width="6.49" height="8.10" fill="#8f96c6" />
<rect x="406.00" y="162.05" width="25.96" height="8.10" fill="#4b5165" />
<rect x="431.96" y="162.05" width="6.49" height="8.10" fill="#8f96c6" />
<rect x="406.00" y="171.50" width="6.49" height="8.10" fill="#4b5165" />
<rect x="406.00" y="180.95" width="19.47" height="8.10" fill="#4b5165" />
<path d="M404.3,191.9 V194.25 H484.6 V191.9" fill="none" stroke="#231f20" stroke-width="1.0"/>
<text x="404.30" y="203.45" font-size="7.0" fill="#231f20" text-anchor="middle" >0</text>
<text x="481.39" y="203.05" font-size="7.0" fill="#231f20" textLength="6.92" lengthAdjust="spacingAndGlyphs" >12</text>
<text x="425.94" y="212.91" font-size="8.6" fill="#231f20" textLength="36.92" lengthAdjust="spacingAndGlyphs" >No. of cases</text>
<rect x="61.40" y="216.40" width="12.50" height="7.20" fill="#aecdec" />
<text x="68.25" y="222.70" font-size="6.6" fill="#231f20" text-anchor="middle" textLength="3.56" lengthAdjust="spacingAndGlyphs" >1</text>
<rect x="61.40" y="225.00" width="12.50" height="7.20" fill="#a6002c" />
<rect x="75.08" y="216.40" width="12.50" height="7.20" fill="#aecdec" />
<text x="81.93" y="222.70" font-size="6.6" fill="#231f20" text-anchor="middle" textLength="3.56" lengthAdjust="spacingAndGlyphs" >3</text>
<rect x="75.08" y="225.00" width="12.50" height="7.20" fill="#a6002c" />
<rect x="88.76" y="216.40" width="12.50" height="7.20" fill="#5fa7de" />
<text x="95.61" y="222.70" font-size="6.6" fill="#231f20" text-anchor="middle" textLength="3.56" lengthAdjust="spacingAndGlyphs" >6</text>
<rect x="88.76" y="225.00" width="12.50" height="7.20" fill="#a6002c" />
<rect x="102.44" y="216.40" width="12.50" height="7.20" fill="#9e9ebd" />
<text x="109.29" y="222.70" font-size="6.6" fill="#231f20" text-anchor="middle" textLength="7.12" lengthAdjust="spacingAndGlyphs" >32</text>
<rect x="102.44" y="225.00" width="12.50" height="7.20" fill="#a6002c" />
<rect x="116.12" y="216.40" width="12.50" height="7.20" fill="#9e9ebd" />
<text x="122.97" y="222.70" font-size="6.6" fill="#231f20" text-anchor="middle" textLength="7.12" lengthAdjust="spacingAndGlyphs" >25</text>
<rect x="116.12" y="225.00" width="12.50" height="7.20" fill="#9399c6" />
<rect x="129.80" y="216.40" width="12.50" height="7.20" fill="#aecdec" />
<text x="136.65" y="222.70" font-size="6.6" fill="#231f20" text-anchor="middle" textLength="3.56" lengthAdjust="spacingAndGlyphs" >1</text>
<rect x="129.80" y="225.00" width="12.50" height="7.20" fill="#a6002c" />
<rect x="143.48" y="216.40" width="12.50" height="7.20" fill="#5fa7de" />
<text x="150.33" y="222.70" font-size="6.6" fill="#231f20" text-anchor="middle" textLength="3.56" lengthAdjust="spacingAndGlyphs" >8</text>
<rect x="143.48" y="225.00" width="12.50" height="7.20" fill="#e3931b" />
<rect x="157.16" y="216.40" width="12.50" height="7.20" fill="#9e9ebd" />
<text x="164.01" y="222.70" font-size="6.6" fill="#231f20" text-anchor="middle" textLength="7.12" lengthAdjust="spacingAndGlyphs" >17</text>
<rect x="157.16" y="225.00" width="12.50" height="7.20" fill="#9399c6" />
<rect x="170.84" y="216.40" width="12.50" height="7.20" fill="#aecdec" />
<text x="177.69" y="222.70" font-size="6.6" fill="#231f20" text-anchor="middle" textLength="3.56" lengthAdjust="spacingAndGlyphs" >5</text>
<rect x="170.84" y="225.00" width="12.50" height="7.20" fill="#a6002c" />
<rect x="184.52" y="216.40" width="12.50" height="7.20" fill="#9e9ebd" />
<text x="191.37" y="222.70" font-size="6.6" fill="#231f20" text-anchor="middle" textLength="7.12" lengthAdjust="spacingAndGlyphs" >22</text>
<rect x="184.52" y="225.00" width="12.50" height="7.20" fill="#e3931b" />
<rect x="198.20" y="216.40" width="12.50" height="7.20" fill="#aecdec" />
<text x="205.05" y="222.70" font-size="6.6" fill="#231f20" text-anchor="middle" textLength="3.56" lengthAdjust="spacingAndGlyphs" >3</text>
<rect x="198.20" y="225.00" width="12.50" height="7.20" fill="#a6002c" />
<rect x="211.88" y="216.40" width="12.50" height="7.20" fill="#aecdec" />
<text x="218.73" y="222.70" font-size="6.6" fill="#231f20" text-anchor="middle" textLength="3.56" lengthAdjust="spacingAndGlyphs" >3</text>
<rect x="211.88" y="225.00" width="12.50" height="7.20" fill="#e3931b" />
<rect x="225.56" y="216.40" width="12.50" height="7.20" fill="#5fa7de" />
<text x="232.41" y="222.70" font-size="6.6" fill="#231f20" text-anchor="middle" textLength="3.56" lengthAdjust="spacingAndGlyphs" >6</text>
<rect x="225.56" y="225.00" width="12.50" height="7.20" fill="#a6002c" />
<rect x="239.24" y="216.40" width="12.50" height="7.20" fill="#aecdec" />
<text x="246.09" y="222.70" font-size="6.6" fill="#231f20" text-anchor="middle" textLength="3.56" lengthAdjust="spacingAndGlyphs" >1</text>
<rect x="239.24" y="225.00" width="12.50" height="7.20" fill="#9399c6" />
<rect x="252.92" y="216.40" width="12.50" height="7.20" fill="#aecdec" />
<text x="259.77" y="222.70" font-size="6.6" fill="#231f20" text-anchor="middle" textLength="3.56" lengthAdjust="spacingAndGlyphs" >4</text>
<rect x="252.92" y="225.00" width="12.50" height="7.20" fill="#9399c6" />
<rect x="266.60" y="216.40" width="12.50" height="7.20" fill="#5fa7de" />
<text x="273.45" y="222.70" font-size="6.6" fill="#231f20" text-anchor="middle" textLength="7.12" lengthAdjust="spacingAndGlyphs" >12</text>
<rect x="266.60" y="225.00" width="12.50" height="7.20" fill="#a6002c" />
<rect x="280.28" y="216.40" width="12.50" height="7.20" fill="#aecdec" />
<text x="287.13" y="222.70" font-size="6.6" fill="#231f20" text-anchor="middle" textLength="3.56" lengthAdjust="spacingAndGlyphs" >5</text>
<rect x="280.28" y="225.00" width="12.50" height="7.20" fill="#a6002c" />
<rect x="293.96" y="216.40" width="12.50" height="7.20" fill="#aecdec" />
<text x="300.81" y="222.70" font-size="6.6" fill="#231f20" text-anchor="middle" textLength="3.56" lengthAdjust="spacingAndGlyphs" >5</text>
<rect x="293.96" y="225.00" width="12.50" height="7.20" fill="#a6002c" />
<rect x="307.64" y="216.40" width="12.50" height="7.20" fill="#5fa7de" />
<text x="314.49" y="222.70" font-size="6.6" fill="#231f20" text-anchor="middle" textLength="3.56" lengthAdjust="spacingAndGlyphs" >8</text>
<rect x="307.64" y="225.00" width="12.50" height="7.20" fill="#9399c6" />
<rect x="321.32" y="216.40" width="12.50" height="7.20" fill="#5fa7de" />
<text x="328.17" y="222.70" font-size="6.6" fill="#231f20" text-anchor="middle" textLength="6.65" lengthAdjust="spacingAndGlyphs" >11</text>
<rect x="321.32" y="225.00" width="12.50" height="7.20" fill="#a6002c" />
<rect x="335.00" y="216.40" width="12.50" height="7.20" fill="#aecdec" />
<text x="341.85" y="222.70" font-size="6.6" fill="#231f20" text-anchor="middle" textLength="3.56" lengthAdjust="spacingAndGlyphs" >2</text>
<rect x="335.00" y="225.00" width="12.50" height="7.20" fill="#a6002c" />
<rect x="348.68" y="216.40" width="12.50" height="7.20" fill="#9e9ebd" />
<text x="355.53" y="222.70" font-size="6.6" fill="#231f20" text-anchor="middle" textLength="7.12" lengthAdjust="spacingAndGlyphs" >36</text>
<rect x="348.68" y="225.00" width="12.50" height="7.20" fill="#a6002c" />
<rect x="362.36" y="216.40" width="12.50" height="7.20" fill="#aecdec" />
<text x="369.21" y="222.70" font-size="6.6" fill="#231f20" text-anchor="middle" textLength="3.56" lengthAdjust="spacingAndGlyphs" >4</text>
<rect x="362.36" y="225.00" width="12.50" height="7.20" fill="#a6002c" />
<rect x="376.04" y="216.40" width="12.50" height="7.20" fill="#5fa7de" />
<text x="382.89" y="222.70" font-size="6.6" fill="#231f20" text-anchor="middle" textLength="3.56" lengthAdjust="spacingAndGlyphs" >7</text>
<rect x="376.04" y="225.00" width="12.50" height="7.20" fill="#9399c6" />
<rect x="389.72" y="216.40" width="11.90" height="7.20" fill="#5fa7de" />
<text x="396.27" y="222.70" font-size="6.6" fill="#231f20" text-anchor="middle" textLength="3.56" lengthAdjust="spacingAndGlyphs" >7</text>
<rect x="389.72" y="225.00" width="11.90" height="7.20" fill="#9399c6" />
<text x="404.98" y="223.25" font-size="7.3" fill="#231f20" textLength="40.14" lengthAdjust="spacingAndGlyphs" >RFS (months)</text>
<text x="404.98" y="231.16" font-size="7.3" fill="#231f20" textLength="24.64" lengthAdjust="spacingAndGlyphs" >Therapy</text>
<text x="60.59" y="242.45" font-size="7.0" fill="#111" font-weight="bold" textLength="31.62" lengthAdjust="spacingAndGlyphs" >Mutations</text>
<rect x="61.30" y="246.80" width="7.20" height="7.50" fill="#4b5165" />
<rect x="61.30" y="254.30" width="7.20" height="7.50" fill="#9aa0cb" />
<text x="71.68" y="252.46" font-size="7.3" fill="#231f20" textLength="56.94" lengthAdjust="spacingAndGlyphs" >Baseline/persistent</text>
<text x="71.68" y="260.16" font-size="7.3" fill="#231f20" textLength="29.64" lengthAdjust="spacingAndGlyphs" >Clearance</text>
<rect x="139.20" y="246.80" width="7.20" height="7.50" fill="#e3931b" />
<rect x="139.20" y="254.30" width="7.20" height="7.50" fill="#a6002c" />
<text x="148.98" y="252.46" font-size="7.3" fill="#231f20" textLength="30.44" lengthAdjust="spacingAndGlyphs" >Expansion</text>
<text x="148.98" y="260.16" font-size="7.3" fill="#231f20" textLength="27.74" lengthAdjust="spacingAndGlyphs" >Acquired</text>
<text x="235.19" y="242.25" font-size="7.0" fill="#111" font-weight="bold" textLength="41.92" lengthAdjust="spacingAndGlyphs" >RFS (months)</text>
<rect x="238.50" y="246.90" width="7.60" height="7.70" fill="#4b5165" />
<rect x="238.50" y="254.60" width="7.60" height="7.70" fill="#9aa0cb" />
<rect x="238.50" y="262.30" width="7.60" height="7.70" fill="#67aee3" />
<text x="248.98" y="253.56" font-size="7.3" fill="#231f20" textLength="11.84" lengthAdjust="spacingAndGlyphs" >&gt;12</text>
<text x="248.98" y="261.16" font-size="7.3" fill="#231f20" textLength="14.24" lengthAdjust="spacingAndGlyphs" >6-12</text>
<text x="248.98" y="269.16" font-size="7.3" fill="#231f20" textLength="8.14" lengthAdjust="spacingAndGlyphs" >&lt;6</text>
<text x="342.79" y="242.05" font-size="7.0" fill="#111" font-weight="bold" textLength="25.22" lengthAdjust="spacingAndGlyphs" >Therapy</text>
<rect x="344.10" y="246.90" width="7.40" height="8.00" fill="#a6002c" />
<rect x="344.10" y="254.90" width="7.40" height="7.90" fill="#e3931b" />
<rect x="344.10" y="262.80" width="7.40" height="7.90" fill="#9399c6" />
<text x="354.78" y="252.96" font-size="7.3" fill="#231f20" textLength="33.14" lengthAdjust="spacingAndGlyphs" >Azacitidine</text>
<text x="354.78" y="261.06" font-size="7.3" fill="#231f20" textLength="32.54" lengthAdjust="spacingAndGlyphs" >Decitabine</text>
<text x="354.78" y="269.06" font-size="7.3" fill="#231f20" textLength="18.14" lengthAdjust="spacingAndGlyphs" >LDAC</text>
<text x="7.25" y="283.80" font-size="11.8" fill="#111" font-weight="bold" textLength="8.51" lengthAdjust="spacingAndGlyphs" >B</text>
<path d="M38.00,310.40 V381.30 H112.50" fill="none" stroke="#141414" stroke-width="1.25"/>
<line x1="34.70" y1="373.40" x2="38.00" y2="373.40" stroke="#141414" stroke-width="0.9" />
<text x="31.50" y="375.85" font-size="7.2" fill="#231f20" text-anchor="end" textLength="3.44" lengthAdjust="spacingAndGlyphs" >0</text>
<line x1="34.70" y1="361.38" x2="38.00" y2="361.38" stroke="#141414" stroke-width="0.9" />
<text x="31.50" y="363.83" font-size="7.2" fill="#231f20" text-anchor="end" textLength="6.89" lengthAdjust="spacingAndGlyphs" >20</text>
<line x1="34.70" y1="349.36" x2="38.00" y2="349.36" stroke="#141414" stroke-width="0.9" />
<text x="31.50" y="351.81" font-size="7.2" fill="#231f20" text-anchor="end" textLength="6.89" lengthAdjust="spacingAndGlyphs" >40</text>
<line x1="34.70" y1="337.34" x2="38.00" y2="337.34" stroke="#141414" stroke-width="0.9" />
<text x="31.50" y="339.79" font-size="7.2" fill="#231f20" text-anchor="end" textLength="6.89" lengthAdjust="spacingAndGlyphs" >60</text>
<line x1="34.70" y1="325.32" x2="38.00" y2="325.32" stroke="#141414" stroke-width="0.9" />
<text x="31.50" y="327.77" font-size="7.2" fill="#231f20" text-anchor="end" textLength="6.89" lengthAdjust="spacingAndGlyphs" >80</text>
<line x1="34.70" y1="313.30" x2="38.00" y2="313.30" stroke="#141414" stroke-width="0.9" />
<text x="31.50" y="315.75" font-size="7.2" fill="#231f20" text-anchor="end" textLength="10.33" lengthAdjust="spacingAndGlyphs" >100</text>
<line x1="57.50" y1="381.30" x2="57.50" y2="384.10" stroke="#141414" stroke-width="0.9" />
<line x1="79.20" y1="381.30" x2="79.20" y2="384.10" stroke="#141414" stroke-width="0.9" />
<line x1="101.40" y1="381.30" x2="101.40" y2="384.10" stroke="#141414" stroke-width="0.9" />
<text transform="translate(59.90,393.60) rotate(-40)" font-size="8.2" fill="#231f20" text-anchor="end" textLength="22.02" lengthAdjust="spacingAndGlyphs">Baseline</text>
<text transform="translate(81.60,393.60) rotate(-40)" font-size="8.2" fill="#231f20" text-anchor="end" textLength="26.79" lengthAdjust="spacingAndGlyphs">Remission</text>
<text transform="translate(103.80,393.60) rotate(-40)" font-size="8.2" fill="#231f20" text-anchor="end" textLength="21.06" lengthAdjust="spacingAndGlyphs">Relapse</text>
<text x="109.68" y="391.12" font-size="7.2" fill="#231f20" textLength="10.93" lengthAdjust="spacingAndGlyphs" >78d</text>
<text transform="translate(14.80,345.70) rotate(-90)" font-size="8.3" fill="#231f20" text-anchor="middle" textLength="24.00" lengthAdjust="spacingAndGlyphs">VAF (%)</text>
<path d="M57.50,343.95 L101.40,372.92" fill="none" stroke="#76b656" stroke-width="0.95"/>
<circle cx="57.50" cy="343.95" r="0.95" fill="#76b656"/>
<circle cx="101.40" cy="372.92" r="0.95" fill="#76b656"/>
<path d="M57.50,351.16 L101.40,360.54" fill="none" stroke="#76b656" stroke-width="0.95"/>
<circle cx="57.50" cy="351.16" r="0.95" fill="#76b656"/>
<circle cx="101.40" cy="360.54" r="0.95" fill="#76b656"/>
<path d="M57.50,369.37 L101.40,358.38" fill="none" stroke="#b0103c" stroke-width="1.1"/>
<circle cx="57.50" cy="369.37" r="1.85" fill="#b0103c"/>
<circle cx="101.40" cy="358.38" r="1.85" fill="#b0103c"/>
<text x="105.10" y="358.81" font-size="6.6" fill="#b52049" textLength="22.90" lengthAdjust="spacingAndGlyphs" >FLT3-ITD</text>
<text x="105.10" y="366.11" font-size="6.6" fill="#7ab65a" textLength="34.10" lengthAdjust="spacingAndGlyphs" >GATA2 R362*</text>
<text x="105.10" y="375.31" font-size="6.6" fill="#7ab65a" textLength="31.20" lengthAdjust="spacingAndGlyphs" >NRAS G12D</text>
<text x="66.35" y="293.60" font-size="8.3" fill="#231f20" textLength="17.80" lengthAdjust="spacingAndGlyphs" >#055</text>
<text x="49.45" y="305.60" font-size="8.3" fill="#231f20" textLength="15.50" lengthAdjust="spacingAndGlyphs" >40%</text>
<text x="74.35" y="305.60" font-size="8.3" fill="#231f20" textLength="10.90" lengthAdjust="spacingAndGlyphs" >2%</text>
<text x="94.05" y="305.60" font-size="8.3" fill="#231f20" textLength="15.00" lengthAdjust="spacingAndGlyphs" >43%</text>
<text x="119.45" y="305.60" font-size="8.3" fill="#231f20" textLength="20.10" lengthAdjust="spacingAndGlyphs" >Blasts</text>
<text x="155.45" y="284.30" font-size="11.8" fill="#111" font-weight="bold" textLength="8.71" lengthAdjust="spacingAndGlyphs" >C</text>
<path d="M186.00,310.35 V381.30 H260.50" fill="none" stroke="#141414" stroke-width="1.25"/>
<line x1="182.70" y1="373.40" x2="186.00" y2="373.40" stroke="#141414" stroke-width="0.9" />
<text x="179.50" y="375.85" font-size="7.2" fill="#231f20" text-anchor="end" textLength="3.44" lengthAdjust="spacingAndGlyphs" >0</text>
<line x1="182.70" y1="361.37" x2="186.00" y2="361.37" stroke="#141414" stroke-width="0.9" />
<text x="179.50" y="363.82" font-size="7.2" fill="#231f20" text-anchor="end" textLength="6.89" lengthAdjust="spacingAndGlyphs" >20</text>
<line x1="182.70" y1="349.34" x2="186.00" y2="349.34" stroke="#141414" stroke-width="0.9" />
<text x="179.50" y="351.79" font-size="7.2" fill="#231f20" text-anchor="end" textLength="6.89" lengthAdjust="spacingAndGlyphs" >40</text>
<line x1="182.70" y1="337.31" x2="186.00" y2="337.31" stroke="#141414" stroke-width="0.9" />
<text x="179.50" y="339.76" font-size="7.2" fill="#231f20" text-anchor="end" textLength="6.89" lengthAdjust="spacingAndGlyphs" >60</text>
<line x1="182.70" y1="325.28" x2="186.00" y2="325.28" stroke="#141414" stroke-width="0.9" />
<text x="179.50" y="327.73" font-size="7.2" fill="#231f20" text-anchor="end" textLength="6.89" lengthAdjust="spacingAndGlyphs" >80</text>
<line x1="182.70" y1="313.25" x2="186.00" y2="313.25" stroke="#141414" stroke-width="0.9" />
<text x="179.50" y="315.70" font-size="7.2" fill="#231f20" text-anchor="end" textLength="10.33" lengthAdjust="spacingAndGlyphs" >100</text>
<line x1="205.50" y1="381.30" x2="205.50" y2="384.10" stroke="#141414" stroke-width="0.9" />
<line x1="228.00" y1="381.30" x2="228.00" y2="384.10" stroke="#141414" stroke-width="0.9" />
<line x1="250.00" y1="381.30" x2="250.00" y2="384.10" stroke="#141414" stroke-width="0.9" />
<text transform="translate(207.90,393.60) rotate(-40)" font-size="8.2" fill="#231f20" text-anchor="end" textLength="22.02" lengthAdjust="spacingAndGlyphs">Baseline</text>
<text transform="translate(230.40,393.60) rotate(-40)" font-size="8.2" fill="#231f20" text-anchor="end" textLength="26.79" lengthAdjust="spacingAndGlyphs">Remission</text>
<text transform="translate(252.40,393.60) rotate(-40)" font-size="8.2" fill="#231f20" text-anchor="end" textLength="21.06" lengthAdjust="spacingAndGlyphs">Relapse</text>
<text x="254.68" y="391.52" font-size="7.2" fill="#231f20" textLength="11.43" lengthAdjust="spacingAndGlyphs" >98d</text>
<text transform="translate(163.80,345.70) rotate(-90)" font-size="8.3" fill="#231f20" text-anchor="middle" textLength="24.00" lengthAdjust="spacingAndGlyphs">VAF (%)</text>
<path d="M205.50,328.89 L228.00,368.59 L250.00,327.69" fill="none" stroke="#76b656" stroke-width="0.95"/>
<circle cx="205.50" cy="328.89" r="0.95" fill="#76b656"/>
<circle cx="228.00" cy="368.59" r="0.95" fill="#76b656"/>
<circle cx="250.00" cy="327.69" r="0.95" fill="#76b656"/>
<path d="M205.50,346.33 L228.00,369.19 L250.00,339.11" fill="none" stroke="#76b656" stroke-width="0.95"/>
<circle cx="205.50" cy="346.33" r="0.95" fill="#76b656"/>
<circle cx="228.00" cy="369.19" r="0.95" fill="#76b656"/>
<circle cx="250.00" cy="339.11" r="0.95" fill="#76b656"/>
<path d="M205.50,346.33 L228.00,369.79 L250.00,345.73" fill="none" stroke="#76b656" stroke-width="0.95"/>
<circle cx="205.50" cy="346.33" r="0.95" fill="#76b656"/>
<circle cx="228.00" cy="369.79" r="0.95" fill="#76b656"/>
<circle cx="250.00" cy="345.73" r="0.95" fill="#76b656"/>
<path d="M205.50,370.99 L228.00,372.20 L250.00,373.40" fill="none" stroke="#76b656" stroke-width="0.95"/>
<circle cx="205.50" cy="370.99" r="0.95" fill="#76b656"/>
<circle cx="228.00" cy="372.20" r="0.95" fill="#76b656"/>
<circle cx="250.00" cy="373.40" r="0.95" fill="#76b656"/>
<path d="M205.50,355.96 L228.00,370.99 L250.00,318.66" fill="none" stroke="#b0103c" stroke-width="1.1"/>
<circle cx="205.50" cy="355.96" r="1.85" fill="#b0103c"/>
<circle cx="228.00" cy="370.99" r="1.85" fill="#b0103c"/>
<circle cx="250.00" cy="318.66" r="1.85" fill="#b0103c"/>
<text x="253.60" y="321.11" font-size="6.6" fill="#b52049" textLength="22.40" lengthAdjust="spacingAndGlyphs" >FLT3-ITD</text>
<text x="253.60" y="330.81" font-size="6.6" fill="#7ab65a" textLength="36.60" lengthAdjust="spacingAndGlyphs" >NPM1 W288fs</text>
<text x="253.60" y="341.51" font-size="6.6" fill="#7ab65a" textLength="33.50" lengthAdjust="spacingAndGlyphs" >TET2 Q1540*</text>
<text x="253.60" y="352.31" font-size="6.6" fill="#7ab65a" textLength="42.00" lengthAdjust="spacingAndGlyphs" >DNMT3A R882H</text>
<text x="253.60" y="375.71" font-size="6.6" fill="#7ab65a" textLength="29.70" lengthAdjust="spacingAndGlyphs" >FLT3 D835Y</text>
<text x="214.85" y="293.70" font-size="8.3" fill="#231f20" textLength="16.80" lengthAdjust="spacingAndGlyphs" >#201</text>
<text x="197.95" y="305.40" font-size="8.3" fill="#231f20" textLength="15.30" lengthAdjust="spacingAndGlyphs" >95%</text>
<text x="220.15" y="305.40" font-size="8.3" fill="#231f20" textLength="15.30" lengthAdjust="spacingAndGlyphs" >&lt;5%</text>
<text x="242.05" y="305.40" font-size="8.3" fill="#231f20" textLength="15.40" lengthAdjust="spacingAndGlyphs" >70%</text>
<text x="275.45" y="305.50" font-size="8.3" fill="#231f20" textLength="19.90" lengthAdjust="spacingAndGlyphs" >Blasts</text>
<text x="310.05" y="283.80" font-size="11.8" fill="#111" font-weight="bold" textLength="8.91" lengthAdjust="spacingAndGlyphs" >D</text>
<path d="M340.10,310.40 V381.40 H414.80" fill="none" stroke="#141414" stroke-width="1.25"/>
<line x1="336.80" y1="373.50" x2="340.10" y2="373.50" stroke="#141414" stroke-width="0.9" />
<text x="333.60" y="375.95" font-size="7.2" fill="#231f20" text-anchor="end" textLength="3.44" lengthAdjust="spacingAndGlyphs" >0</text>
<line x1="336.80" y1="361.46" x2="340.10" y2="361.46" stroke="#141414" stroke-width="0.9" />
<text x="333.60" y="363.91" font-size="7.2" fill="#231f20" text-anchor="end" textLength="6.89" lengthAdjust="spacingAndGlyphs" >20</text>
<line x1="336.80" y1="349.42" x2="340.10" y2="349.42" stroke="#141414" stroke-width="0.9" />
<text x="333.60" y="351.87" font-size="7.2" fill="#231f20" text-anchor="end" textLength="6.89" lengthAdjust="spacingAndGlyphs" >40</text>
<line x1="336.80" y1="337.38" x2="340.10" y2="337.38" stroke="#141414" stroke-width="0.9" />
<text x="333.60" y="339.83" font-size="7.2" fill="#231f20" text-anchor="end" textLength="6.89" lengthAdjust="spacingAndGlyphs" >60</text>
<line x1="336.80" y1="325.34" x2="340.10" y2="325.34" stroke="#141414" stroke-width="0.9" />
<text x="333.60" y="327.79" font-size="7.2" fill="#231f20" text-anchor="end" textLength="6.89" lengthAdjust="spacingAndGlyphs" >80</text>
<line x1="336.80" y1="313.30" x2="340.10" y2="313.30" stroke="#141414" stroke-width="0.9" />
<text x="333.60" y="315.75" font-size="7.2" fill="#231f20" text-anchor="end" textLength="10.33" lengthAdjust="spacingAndGlyphs" >100</text>
<line x1="359.90" y1="381.40" x2="359.90" y2="384.20" stroke="#141414" stroke-width="0.9" />
<line x1="382.00" y1="381.40" x2="382.00" y2="384.20" stroke="#141414" stroke-width="0.9" />
<line x1="404.10" y1="381.40" x2="404.10" y2="384.20" stroke="#141414" stroke-width="0.9" />
<text transform="translate(362.30,393.70) rotate(-40)" font-size="8.2" fill="#231f20" text-anchor="end" textLength="22.02" lengthAdjust="spacingAndGlyphs">Baseline</text>
<text transform="translate(384.40,393.70) rotate(-40)" font-size="8.2" fill="#231f20" text-anchor="end" textLength="26.79" lengthAdjust="spacingAndGlyphs">Remission</text>
<text transform="translate(406.50,393.70) rotate(-40)" font-size="8.2" fill="#231f20" text-anchor="end" textLength="21.06" lengthAdjust="spacingAndGlyphs">Relapse</text>
<text x="410.08" y="391.62" font-size="7.2" fill="#231f20" textLength="14.73" lengthAdjust="spacingAndGlyphs" >195d</text>
<text transform="translate(317.20,345.70) rotate(-90)" font-size="8.3" fill="#231f20" text-anchor="middle" textLength="24.00" lengthAdjust="spacingAndGlyphs">VAF (%)</text>
<path d="M359.90,344.84 L404.10,373.50" fill="none" stroke="#76b656" stroke-width="0.95"/>
<circle cx="359.90" cy="344.84" r="0.95" fill="#76b656"/>
<circle cx="404.10" cy="373.50" r="0.95" fill="#76b656"/>
<path d="M359.90,347.25 L382.00,373.50 L404.10,360.26" fill="none" stroke="#76b656" stroke-width="0.95"/>
<circle cx="359.90" cy="347.25" r="0.95" fill="#76b656"/>
<circle cx="382.00" cy="373.50" r="0.95" fill="#76b656"/>
<circle cx="404.10" cy="360.26" r="0.95" fill="#76b656"/>
<path d="M359.90,361.46 L382.00,373.50 L404.10,362.84" fill="none" stroke="#76b656" stroke-width="0.95"/>
<circle cx="359.90" cy="361.46" r="0.95" fill="#76b656"/>
<circle cx="382.00" cy="373.50" r="0.95" fill="#76b656"/>
<circle cx="404.10" cy="362.84" r="0.95" fill="#76b656"/>
<path d="M359.90,362.66 L382.00,373.50 L404.10,365.98" fill="none" stroke="#76b656" stroke-width="0.95"/>
<circle cx="359.90" cy="362.66" r="0.95" fill="#76b656"/>
<circle cx="382.00" cy="373.50" r="0.95" fill="#76b656"/>
<circle cx="404.10" cy="365.98" r="0.95" fill="#76b656"/>
<path d="M359.90,373.50 L404.10,360.26" fill="none" stroke="#76b656" stroke-width="0.95"/>
<circle cx="359.90" cy="373.50" r="0.95" fill="#76b656"/>
<circle cx="404.10" cy="360.26" r="0.95" fill="#76b656"/>
<path d="M382.00,373.50 L404.10,373.50" fill="none" stroke="#76b656" stroke-width="0.95"/>
<circle cx="382.00" cy="373.50" r="0.95" fill="#76b656"/>
<circle cx="404.10" cy="373.50" r="0.95" fill="#76b656"/>
<path d="M359.90,367.54 L382.00,373.50 L404.10,355.80" fill="none" stroke="#b0103c" stroke-width="1.1"/>
<circle cx="359.90" cy="367.54" r="1.85" fill="#b0103c"/>
<circle cx="382.00" cy="373.50" r="1.85" fill="#b0103c"/>
<circle cx="404.10" cy="355.80" r="1.85" fill="#b0103c"/>
<text x="407.40" y="349.91" font-size="6.6" fill="#b52049" textLength="22.80" lengthAdjust="spacingAndGlyphs" >FLT3-ITD</text>
<text x="407.40" y="355.91" font-size="6.6" fill="#7ab65a" textLength="43.80" lengthAdjust="spacingAndGlyphs" >DNMT3A I1780fs</text>
<text x="407.40" y="362.11" font-size="6.6" fill="#7ab65a" textLength="36.80" lengthAdjust="spacingAndGlyphs" >NPM1 W288fs</text>
<text x="407.40" y="368.31" font-size="6.6" fill="#7ab65a" textLength="31.80" lengthAdjust="spacingAndGlyphs" >IDH1 R132H</text>
<text x="407.40" y="374.31" font-size="6.6" fill="#7ab65a" textLength="47.80" lengthAdjust="spacingAndGlyphs" >DNMT3A M779del</text>
<text x="407.40" y="380.31" font-size="6.6" fill="#7ab65a" textLength="49.30" lengthAdjust="spacingAndGlyphs" >PTPN11 A72T, F71L</text>
<text x="369.05" y="291.20" font-size="8.3" fill="#231f20" textLength="17.20" lengthAdjust="spacingAndGlyphs" >#041</text>
<text x="352.05" y="305.00" font-size="8.3" fill="#231f20" textLength="15.40" lengthAdjust="spacingAndGlyphs" >40%</text>
<text x="376.35" y="305.00" font-size="8.3" fill="#231f20" textLength="11.30" lengthAdjust="spacingAndGlyphs" >2%</text>
<text x="396.05" y="305.00" font-size="8.3" fill="#231f20" textLength="15.80" lengthAdjust="spacingAndGlyphs" >43%</text>
<text x="436.45" y="305.00" font-size="8.3" fill="#231f20" textLength="20.80" lengthAdjust="spacingAndGlyphs" >Blasts</text>
<text x="82.65" y="425.80" font-size="11.8" fill="#111" font-weight="bold" textLength="7.81" lengthAdjust="spacingAndGlyphs" >E</text>
<path d="M113.10,448.40 V519.50 H188.30" fill="none" stroke="#141414" stroke-width="1.25"/>
<line x1="109.80" y1="511.50" x2="113.10" y2="511.50" stroke="#141414" stroke-width="0.9" />
<text x="106.60" y="513.95" font-size="7.2" fill="#231f20" text-anchor="end" textLength="3.44" lengthAdjust="spacingAndGlyphs" >0</text>
<line x1="109.80" y1="499.46" x2="113.10" y2="499.46" stroke="#141414" stroke-width="0.9" />
<text x="106.60" y="501.91" font-size="7.2" fill="#231f20" text-anchor="end" textLength="6.89" lengthAdjust="spacingAndGlyphs" >20</text>
<line x1="109.80" y1="487.42" x2="113.10" y2="487.42" stroke="#141414" stroke-width="0.9" />
<text x="106.60" y="489.87" font-size="7.2" fill="#231f20" text-anchor="end" textLength="6.89" lengthAdjust="spacingAndGlyphs" >40</text>
<line x1="109.80" y1="475.38" x2="113.10" y2="475.38" stroke="#141414" stroke-width="0.9" />
<text x="106.60" y="477.83" font-size="7.2" fill="#231f20" text-anchor="end" textLength="6.89" lengthAdjust="spacingAndGlyphs" >60</text>
<line x1="109.80" y1="463.34" x2="113.10" y2="463.34" stroke="#141414" stroke-width="0.9" />
<text x="106.60" y="465.79" font-size="7.2" fill="#231f20" text-anchor="end" textLength="6.89" lengthAdjust="spacingAndGlyphs" >80</text>
<line x1="109.80" y1="451.30" x2="113.10" y2="451.30" stroke="#141414" stroke-width="0.9" />
<text x="106.60" y="453.75" font-size="7.2" fill="#231f20" text-anchor="end" textLength="10.33" lengthAdjust="spacingAndGlyphs" >100</text>
<line x1="132.70" y1="519.50" x2="132.70" y2="522.30" stroke="#141414" stroke-width="0.9" />
<line x1="155.00" y1="519.50" x2="155.00" y2="522.30" stroke="#141414" stroke-width="0.9" />
<line x1="177.00" y1="519.50" x2="177.00" y2="522.30" stroke="#141414" stroke-width="0.9" />
<text transform="translate(135.10,531.80) rotate(-40)" font-size="8.2" fill="#231f20" text-anchor="end" textLength="22.02" lengthAdjust="spacingAndGlyphs">Baseline</text>
<text transform="translate(157.40,531.80) rotate(-40)" font-size="8.2" fill="#231f20" text-anchor="end" textLength="26.79" lengthAdjust="spacingAndGlyphs">Remission</text>
<text transform="translate(179.40,531.80) rotate(-40)" font-size="8.2" fill="#231f20" text-anchor="end" textLength="21.06" lengthAdjust="spacingAndGlyphs">Relapse</text>
<text x="186.38" y="528.02" font-size="7.2" fill="#231f20" textLength="14.93" lengthAdjust="spacingAndGlyphs" >125d</text>
<text transform="translate(91.10,484.00) rotate(-90)" font-size="8.3" fill="#231f20" text-anchor="middle" textLength="24.00" lengthAdjust="spacingAndGlyphs">VAF (%)</text>
<path d="M132.70,452.87 L177.00,453.59" fill="none" stroke="#76b656" stroke-width="0.95"/>
<circle cx="132.70" cy="452.87" r="0.95" fill="#76b656"/>
<circle cx="177.00" cy="453.59" r="0.95" fill="#76b656"/>
<path d="M132.70,476.40 L177.00,473.81" fill="none" stroke="#76b656" stroke-width="0.95"/>
<circle cx="132.70" cy="476.40" r="0.95" fill="#76b656"/>
<circle cx="177.00" cy="473.81" r="0.95" fill="#76b656"/>
<path d="M132.70,511.50 L177.00,481.64" fill="none" stroke="#b0103c" stroke-width="1.1"/>
<circle cx="132.70" cy="511.50" r="1.85" fill="#b0103c"/>
<circle cx="177.00" cy="481.64" r="1.85" fill="#b0103c"/>
<text x="181.60" y="455.71" font-size="6.6" fill="#7ab65a" textLength="30.80" lengthAdjust="spacingAndGlyphs" >EZH2 M425I</text>
<text x="181.60" y="474.91" font-size="6.6" fill="#7ab65a" textLength="32.60" lengthAdjust="spacingAndGlyphs" >CEBPA P23fs</text>
<text x="181.60" y="482.71" font-size="6.6" fill="#b52049" textLength="22.20" lengthAdjust="spacingAndGlyphs" >FLT3-ITD</text>
<text x="141.75" y="431.70" font-size="8.3" fill="#231f20" textLength="17.80" lengthAdjust="spacingAndGlyphs" >#339</text>
<text x="125.15" y="443.40" font-size="8.3" fill="#231f20" textLength="15.50" lengthAdjust="spacingAndGlyphs" >28%</text>
<text x="169.75" y="443.40" font-size="8.3" fill="#231f20" textLength="15.10" lengthAdjust="spacingAndGlyphs" >66%</text>
<text x="194.75" y="443.40" font-size="8.3" fill="#231f20" textLength="20.20" lengthAdjust="spacingAndGlyphs" >Blasts</text>
<text x="230.35" y="425.80" font-size="11.8" fill="#111" font-weight="bold" textLength="6.71" lengthAdjust="spacingAndGlyphs" >F</text>
<path d="M261.00,448.40 V519.50 H335.80" fill="none" stroke="#141414" stroke-width="1.25"/>
<line x1="257.70" y1="511.50" x2="261.00" y2="511.50" stroke="#141414" stroke-width="0.9" />
<text x="254.50" y="513.95" font-size="7.2" fill="#231f20" text-anchor="end" textLength="3.44" lengthAdjust="spacingAndGlyphs" >0</text>
<line x1="257.70" y1="499.46" x2="261.00" y2="499.46" stroke="#141414" stroke-width="0.9" />
<text x="254.50" y="501.91" font-size="7.2" fill="#231f20" text-anchor="end" textLength="6.89" lengthAdjust="spacingAndGlyphs" >20</text>
<line x1="257.70" y1="487.42" x2="261.00" y2="487.42" stroke="#141414" stroke-width="0.9" />
<text x="254.50" y="489.87" font-size="7.2" fill="#231f20" text-anchor="end" textLength="6.89" lengthAdjust="spacingAndGlyphs" >40</text>
<line x1="257.70" y1="475.38" x2="261.00" y2="475.38" stroke="#141414" stroke-width="0.9" />
<text x="254.50" y="477.83" font-size="7.2" fill="#231f20" text-anchor="end" textLength="6.89" lengthAdjust="spacingAndGlyphs" >60</text>
<line x1="257.70" y1="463.34" x2="261.00" y2="463.34" stroke="#141414" stroke-width="0.9" />
<text x="254.50" y="465.79" font-size="7.2" fill="#231f20" text-anchor="end" textLength="6.89" lengthAdjust="spacingAndGlyphs" >80</text>
<line x1="257.70" y1="451.30" x2="261.00" y2="451.30" stroke="#141414" stroke-width="0.9" />
<text x="254.50" y="453.75" font-size="7.2" fill="#231f20" text-anchor="end" textLength="10.33" lengthAdjust="spacingAndGlyphs" >100</text>
<line x1="280.70" y1="519.50" x2="280.70" y2="522.30" stroke="#141414" stroke-width="0.9" />
<line x1="303.10" y1="519.50" x2="303.10" y2="522.30" stroke="#141414" stroke-width="0.9" />
<line x1="325.00" y1="519.50" x2="325.00" y2="522.30" stroke="#141414" stroke-width="0.9" />
<text transform="translate(283.10,531.80) rotate(-40)" font-size="8.2" fill="#231f20" text-anchor="end" textLength="22.02" lengthAdjust="spacingAndGlyphs">Baseline</text>
<text transform="translate(305.50,531.80) rotate(-40)" font-size="8.2" fill="#231f20" text-anchor="end" textLength="26.79" lengthAdjust="spacingAndGlyphs">Remission</text>
<text transform="translate(327.40,531.80) rotate(-40)" font-size="8.2" fill="#231f20" text-anchor="end" textLength="21.06" lengthAdjust="spacingAndGlyphs">Relapse</text>
<text x="332.68" y="529.02" font-size="7.2" fill="#231f20" textLength="11.43" lengthAdjust="spacingAndGlyphs" >28d</text>
<text transform="translate(238.60,484.00) rotate(-90)" font-size="8.3" fill="#231f20" text-anchor="middle" textLength="24.00" lengthAdjust="spacingAndGlyphs">VAF (%)</text>
<path d="M280.70,479.71 L303.10,486.82 L325.00,480.38" fill="none" stroke="#76b656" stroke-width="0.95"/>
<circle cx="280.70" cy="479.71" r="0.95" fill="#76b656"/>
<circle cx="303.10" cy="486.82" r="0.95" fill="#76b656"/>
<circle cx="325.00" cy="480.38" r="0.95" fill="#76b656"/>
<path d="M280.70,483.93 L303.10,490.13 L325.00,482.00" fill="none" stroke="#76b656" stroke-width="0.95"/>
<circle cx="280.70" cy="483.93" r="0.95" fill="#76b656"/>
<circle cx="303.10" cy="490.13" r="0.95" fill="#76b656"/>
<circle cx="325.00" cy="482.00" r="0.95" fill="#76b656"/>
<path d="M280.70,487.84 L303.10,492.06 L325.00,484.83" fill="none" stroke="#76b656" stroke-width="0.95"/>
<circle cx="280.70" cy="487.84" r="0.95" fill="#76b656"/>
<circle cx="303.10" cy="492.06" r="0.95" fill="#76b656"/>
<circle cx="325.00" cy="484.83" r="0.95" fill="#76b656"/>
<path d="M280.70,511.50 L303.10,511.50 L325.00,501.27" fill="none" stroke="#b0103c" stroke-width="1.1"/>
<circle cx="280.70" cy="511.50" r="0.95" fill="#b0103c"/>
<circle cx="303.10" cy="511.50" r="0.95" fill="#b0103c"/>
<circle cx="325.00" cy="501.27" r="0.95" fill="#b0103c"/>
<path d="M280.70,511.50 L303.10,511.50 L325.00,509.09" fill="none" stroke="#76b656" stroke-width="0.95"/>
<circle cx="280.70" cy="511.50" r="0.95" fill="#76b656"/>
<circle cx="303.10" cy="511.50" r="0.95" fill="#76b656"/>
<circle cx="325.00" cy="509.09" r="0.95" fill="#76b656"/>
<text x="327.60" y="478.01" font-size="6.6" fill="#7ab65a" textLength="34.60" lengthAdjust="spacingAndGlyphs" >STAG2 L708fs</text>
<text x="327.60" y="483.11" font-size="6.6" fill="#7ab65a" textLength="34.60" lengthAdjust="spacingAndGlyphs" >SRSF2 Pro95L</text>
<text x="327.60" y="488.91" font-size="6.6" fill="#7ab65a" textLength="34.60" lengthAdjust="spacingAndGlyphs" >TET2 A1341fs</text>
<text x="327.60" y="500.41" font-size="6.6" fill="#b52049" textLength="22.60" lengthAdjust="spacingAndGlyphs" >FLT3-ITD</text>
<text x="327.60" y="506.61" font-size="6.6" fill="#b52049" textLength="36.60" lengthAdjust="spacingAndGlyphs" >CBL splice site</text>
<text x="327.60" y="512.61" font-size="6.6" fill="#b52049" textLength="29.60" lengthAdjust="spacingAndGlyphs" >NRAS G13R</text>
<text x="290.15" y="432.10" font-size="8.3" fill="#231f20" textLength="17.10" lengthAdjust="spacingAndGlyphs" >#392</text>
<text x="272.75" y="443.40" font-size="8.3" fill="#231f20" textLength="15.30" lengthAdjust="spacingAndGlyphs" >21%</text>
<text x="294.05" y="443.40" font-size="8.3" fill="#231f20" textLength="17.80" lengthAdjust="spacingAndGlyphs" >3.5%</text>
<text x="317.15" y="443.40" font-size="8.3" fill="#231f20" textLength="16.00" lengthAdjust="spacingAndGlyphs" >25%</text>
<text x="344.15" y="443.40" font-size="8.3" fill="#231f20" textLength="20.20" lengthAdjust="spacingAndGlyphs" >Blasts</text>
<text x="7.15" y="560.50" font-size="11.8" fill="#111" font-weight="bold" textLength="9.51" lengthAdjust="spacingAndGlyphs" >G</text>
<text x="42.21" y="565.54" font-size="6.4" fill="#231f20" textLength="12.18" lengthAdjust="spacingAndGlyphs" >#041</text>
<path d="M21.8,570.7 C29.55,570.70 29.55,567.90 37.30,567.90 L219.4,567.9 L219.4,592.9  C217.83,593.05 213.23,593.42 210.00,593.80 C206.77,594.18 203.33,594.55 200.00,595.20 C196.67,595.85 193.33,596.65 190.00,597.70 C186.67,598.75 183.33,600.22 180.00,601.50 C176.67,602.78 173.33,604.27 170.00,605.40 C166.67,606.53 163.33,607.52 160.00,608.30 C156.67,609.08 153.33,609.75 150.00,610.10 C146.67,610.45 143.33,610.45 140.00,610.40 C136.67,610.35 133.33,610.15 130.00,609.80 C126.67,609.45 123.33,609.03 120.00,608.30 C116.67,607.57 113.33,606.68 110.00,605.40 C106.67,604.12 103.33,602.53 100.00,600.60 C96.67,598.67 93.33,596.20 90.00,593.80 C86.67,591.40 83.33,588.60 80.00,586.20 C76.67,583.80 73.33,581.27 70.00,579.40 C66.67,577.53 63.33,575.95 60.00,575.00 C56.67,574.05 53.78,573.92 50.00,573.70 C46.22,573.48 39.42,573.70 37.30,573.70 C29.55,573.70 29.55,570.70 21.80,570.70 Z" fill="#a50029"/>
<path d="M23.5,582.3 C30.40,582.30 30.40,573.70 37.30,573.70  C39.42,573.70 46.22,573.48 50.00,573.70 C53.78,573.92 56.67,574.05 60.00,575.00 C63.33,575.95 66.67,577.53 70.00,579.40 C73.33,581.27 76.67,583.80 80.00,586.20 C83.33,588.60 86.67,591.40 90.00,593.80 C93.33,596.20 96.67,598.67 100.00,600.60 C103.33,602.53 106.67,604.12 110.00,605.40 C113.33,606.68 116.67,607.57 120.00,608.30 C123.33,609.03 126.67,609.45 130.00,609.80 C133.33,610.15 136.67,610.35 140.00,610.40 C143.33,610.45 146.67,610.45 150.00,610.10 C153.33,609.75 156.67,609.08 160.00,608.30 C163.33,607.52 166.67,606.53 170.00,605.40 C173.33,604.27 176.67,602.78 180.00,601.50 C183.33,600.22 186.67,598.75 190.00,597.70 C193.33,596.65 196.67,595.85 200.00,595.20 C203.33,594.55 206.77,594.18 210.00,593.80 C213.23,593.42 217.83,593.05 219.40,592.90 L219.4,616.9 L128,617  C126.67,616.92 123.00,616.90 120.00,616.50 C117.00,616.10 113.33,615.48 110.00,614.60 C106.67,613.72 103.33,612.58 100.00,611.20 C96.67,609.82 93.33,608.23 90.00,606.30 C86.67,604.37 83.33,601.68 80.00,599.60 C76.67,597.52 73.33,595.23 70.00,593.80 C66.67,592.37 63.33,591.57 60.00,591.00 C56.67,590.43 53.78,590.53 50.00,590.40 C46.22,590.27 39.42,590.23 37.30,590.20 C30.40,590.20 30.40,582.30 23.50,582.30 Z" fill="#6aa9e0"/>
<path d="M23.5,599.0 C30.40,599.00 30.40,590.20 37.30,590.20  C39.42,590.23 46.22,590.27 50.00,590.40 C53.78,590.53 56.67,590.43 60.00,591.00 C63.33,591.57 66.67,592.37 70.00,593.80 C73.33,595.23 76.67,597.52 80.00,599.60 C83.33,601.68 86.67,604.37 90.00,606.30 C93.33,608.23 96.67,609.82 100.00,611.20 C103.33,612.58 106.67,613.72 110.00,614.60 C113.33,615.48 117.00,616.10 120.00,616.50 C123.00,616.90 126.67,616.92 128.00,617.00 L142,617  C140.00,616.88 133.67,616.57 130.00,616.30 C126.33,616.03 123.33,615.72 120.00,615.40 C116.67,615.08 113.33,614.78 110.00,614.40 C106.67,614.02 103.33,613.57 100.00,613.10 C96.67,612.63 93.33,612.08 90.00,611.60 C86.67,611.12 83.33,610.67 80.00,610.20 C76.67,609.73 73.33,609.22 70.00,608.80 C66.67,608.38 63.33,607.95 60.00,607.70 C56.67,607.45 53.78,607.38 50.00,607.30 C46.22,607.22 39.42,607.22 37.30,607.20 C30.40,607.20 30.40,599.00 23.50,599.00 Z" fill="#9a8fca"/>
<path d="M23.5,612.6 C31.55,612.60 31.55,607.25 39.60,607.25 L50,607.3  C51.67,607.37 56.67,607.45 60.00,607.70 C63.33,607.95 66.67,608.38 70.00,608.80 C73.33,609.22 76.67,609.73 80.00,610.20 C83.33,610.67 86.67,611.12 90.00,611.60 C93.33,612.08 96.67,612.63 100.00,613.10 C103.33,613.57 106.67,614.02 110.00,614.40 C113.33,614.78 116.67,615.08 120.00,615.40 C123.33,615.72 126.33,616.03 130.00,616.30 C133.67,616.57 140.00,616.88 142.00,617.00 L40,617.0 C31.75,617.00 31.75,612.60 23.50,612.60 Z" fill="#5aa83b"/>
<line x1="43.50" y1="567.90" x2="43.50" y2="617.00" stroke="#151515" stroke-width="0.9" />
<line x1="134.40" y1="567.90" x2="134.40" y2="617.00" stroke="#151515" stroke-width="0.9" />
<text x="110.62" y="587.27" font-size="5.9" fill="#ffffff" textLength="8.35" lengthAdjust="spacingAndGlyphs" >WT</text>
<text x="151.92" y="615.57" font-size="5.9" fill="#e6f0fa" textLength="57.05" lengthAdjust="spacingAndGlyphs" >IDH1 / NPM1 FLT3-ITD</text>
<text x="35.41" y="597.64" font-size="6.4" fill="#ece8f4" textLength="29.78" lengthAdjust="spacingAndGlyphs" >IDH / NPM1</text>
<text x="35.41" y="604.04" font-size="6.4" fill="#ece8f4" textLength="34.38" lengthAdjust="spacingAndGlyphs" >PTPN11-F71L</text>
<text x="42.31" y="611.54" font-size="6.4" fill="#e8f2e2" textLength="28.58" lengthAdjust="spacingAndGlyphs" >IDH / NPM1</text>
<text x="42.31" y="616.74" font-size="6.4" fill="#e8f2e2" textLength="34.38" lengthAdjust="spacingAndGlyphs" >PTPN11 A72T</text>
<g stroke="#444" stroke-width="0.9" fill="none">
<line x1="226.8" y1="560.9499999999999" x2="226.8" y2="617.6500000000001"/>
<line x1="265.3" y1="560.9499999999999" x2="265.3" y2="617.6500000000001"/>
<line x1="303.6" y1="560.9499999999999" x2="303.6" y2="617.6500000000001"/>
<line x1="341.5" y1="560.9499999999999" x2="341.5" y2="617.6500000000001"/>
<line x1="380.2" y1="560.9499999999999" x2="380.2" y2="617.6500000000001"/>
<line x1="418.6" y1="560.9499999999999" x2="418.6" y2="617.6500000000001"/>
<line x1="457.0" y1="560.9499999999999" x2="457.0" y2="617.6500000000001"/>
<line x1="495.1" y1="560.9499999999999" x2="495.1" y2="617.6500000000001"/>
<line x1="226.8" y1="561.4" x2="495.1" y2="561.4"/>
<line x1="226.8" y1="575.2" x2="495.1" y2="575.2"/>
<line x1="226.8" y1="589.5" x2="495.1" y2="589.5"/>
<line x1="226.8" y1="603.7" x2="495.1" y2="603.7"/>
<line x1="226.8" y1="617.2" x2="495.1" y2="617.2"/>
</g>
<text x="246.05" y="570.30" font-size="6.3" fill="#111" text-anchor="middle" font-weight="bold" textLength="18.82" lengthAdjust="spacingAndGlyphs" >Sample</text>
<text x="284.45" y="570.30" font-size="6.3" fill="#111" text-anchor="middle" font-weight="bold" textLength="11.47" lengthAdjust="spacingAndGlyphs" >Date</text>
<text x="322.55" y="570.30" font-size="6.3" fill="#111" text-anchor="middle" font-weight="bold" textLength="19.12" lengthAdjust="spacingAndGlyphs" >Blast %</text>
<text x="360.85" y="570.30" font-size="6.3" fill="#a6002c" text-anchor="middle" font-weight="bold" textLength="8.23" lengthAdjust="spacingAndGlyphs" >WT</text>
<text x="399.40" y="566.51" font-size="6.6" fill="#4e9ad8" text-anchor="middle" textLength="31.69" lengthAdjust="spacingAndGlyphs" >IDH1/NPM1</text>
<text x="399.40" y="573.51" font-size="6.6" fill="#4e9ad8" text-anchor="middle" textLength="23.86" lengthAdjust="spacingAndGlyphs" >FLT3-ITD</text>
<text x="437.80" y="566.51" font-size="6.6" fill="#7e73bd" text-anchor="middle" textLength="31.69" lengthAdjust="spacingAndGlyphs" >IDH1/NPM1</text>
<text x="437.80" y="573.51" font-size="6.6" fill="#7e73bd" text-anchor="middle" textLength="35.86" lengthAdjust="spacingAndGlyphs" >PTPN11-F71L</text>
<text x="476.05" y="566.51" font-size="6.6" fill="#3f9a22" text-anchor="middle" textLength="31.69" lengthAdjust="spacingAndGlyphs" >IDH1/NPM1</text>
<text x="476.05" y="573.51" font-size="6.6" fill="#3f9a22" text-anchor="middle" textLength="36.49" lengthAdjust="spacingAndGlyphs" >PTPN11-A72T</text>
<text x="246.05" y="584.36" font-size="6.3" fill="#111" text-anchor="middle" font-weight="bold" textLength="17.65" lengthAdjust="spacingAndGlyphs" >Screen</text>
<text x="284.45" y="584.42" font-size="6.5" fill="#2a2a2a" text-anchor="middle" textLength="22.01" lengthAdjust="spacingAndGlyphs" >03/06/15</text>
<text x="322.55" y="584.42" font-size="6.5" fill="#2a2a2a" text-anchor="middle" textLength="11.32" lengthAdjust="spacingAndGlyphs" >66%</text>
<text x="360.85" y="584.42" font-size="6.5" fill="#2a2a2a" text-anchor="middle" textLength="15.61" lengthAdjust="spacingAndGlyphs" >11.3%</text>
<text x="399.40" y="584.42" font-size="6.5" fill="#2a2a2a" text-anchor="middle" textLength="17.61" lengthAdjust="spacingAndGlyphs" >33.0 %</text>
<text x="437.80" y="584.42" font-size="6.5" fill="#2a2a2a" text-anchor="middle" textLength="17.61" lengthAdjust="spacingAndGlyphs" >35.8 %</text>
<text x="476.05" y="584.42" font-size="6.5" fill="#2a2a2a" text-anchor="middle" textLength="17.61" lengthAdjust="spacingAndGlyphs" >20.0 %</text>
<text x="246.05" y="598.61" font-size="6.3" fill="#111" text-anchor="middle" font-weight="bold" textLength="20.30" lengthAdjust="spacingAndGlyphs" >Relapse</text>
<text x="284.45" y="598.67" font-size="6.5" fill="#2a2a2a" text-anchor="middle" textLength="22.01" lengthAdjust="spacingAndGlyphs" >10/26/15</text>
<text x="322.55" y="598.67" font-size="6.5" fill="#2a2a2a" text-anchor="middle" textLength="11.32" lengthAdjust="spacingAndGlyphs" >43%</text>
<text x="360.85" y="598.67" font-size="6.5" fill="#2a2a2a" text-anchor="middle" textLength="16.03" lengthAdjust="spacingAndGlyphs" >87.2%</text>
<text x="399.40" y="598.67" font-size="6.5" fill="#2a2a2a" text-anchor="middle" textLength="17.61" lengthAdjust="spacingAndGlyphs" >12.8 %</text>
<text x="437.80" y="598.67" font-size="6.5" fill="#2a2a2a" text-anchor="middle" textLength="9.74" lengthAdjust="spacingAndGlyphs" >0 %</text>
<text x="476.05" y="598.67" font-size="6.5" fill="#2a2a2a" text-anchor="middle" textLength="9.74" lengthAdjust="spacingAndGlyphs" >0 %</text>
<text x="246.05" y="612.46" font-size="6.3" fill="#111" text-anchor="middle" font-weight="bold" textLength="20.30" lengthAdjust="spacingAndGlyphs" >Relapse</text>
<text x="284.45" y="612.52" font-size="6.5" fill="#2a2a2a" text-anchor="middle" textLength="21.59" lengthAdjust="spacingAndGlyphs" >11/10/15</text>
<text x="322.55" y="612.52" font-size="6.5" fill="#2a2a2a" text-anchor="middle" textLength="20.43" lengthAdjust="spacingAndGlyphs" >PB 10%</text>
<text x="360.85" y="612.52" font-size="6.5" fill="#2a2a2a" text-anchor="middle" textLength="16.03" lengthAdjust="spacingAndGlyphs" >49.4%</text>
<text x="399.40" y="612.52" font-size="6.5" fill="#2a2a2a" text-anchor="middle" textLength="17.61" lengthAdjust="spacingAndGlyphs" >50.6 %</text>
<text x="437.80" y="612.52" font-size="6.5" fill="#2a2a2a" text-anchor="middle" textLength="9.74" lengthAdjust="spacingAndGlyphs" >0 %</text>
<text x="476.05" y="612.52" font-size="6.5" fill="#2a2a2a" text-anchor="middle" textLength="9.74" lengthAdjust="spacingAndGlyphs" >0 %</text>
<text x="7.55" y="633.80" font-size="11.8" fill="#111" font-weight="bold" textLength="8.81" lengthAdjust="spacingAndGlyphs" >H</text>
<text x="40.01" y="639.04" font-size="6.4" fill="#231f20" textLength="12.48" lengthAdjust="spacingAndGlyphs" >#392</text>
<path d="M22.40,667.40 C23.17,666.60 25.63,664.40 27.00,662.60 C28.37,660.80 29.40,658.77 30.60,656.60 C31.80,654.43 33.00,651.60 34.20,649.60 C35.40,647.60 36.70,645.78 37.80,644.60 C38.90,643.42 39.88,642.93 40.80,642.50 C41.72,642.07 42.88,642.08 43.30,642.00 L216.1,642 L216.1,653.8  C213.42,653.83 204.35,653.87 200.00,654.00 C195.65,654.13 193.33,654.33 190.00,654.60 C186.67,654.87 183.33,655.12 180.00,655.60 C176.67,656.08 173.33,656.70 170.00,657.50 C166.67,658.30 163.33,659.33 160.00,660.40 C156.67,661.47 153.33,662.65 150.00,663.90 C146.67,665.15 143.33,666.47 140.00,667.90 C136.67,669.33 133.33,671.05 130.00,672.50 C126.67,673.95 123.33,675.33 120.00,676.60 C116.67,677.87 113.33,678.95 110.00,680.10 C106.67,681.25 103.33,682.47 100.00,683.50 C96.67,684.53 93.33,685.45 90.00,686.30 C86.67,687.15 83.33,687.83 80.00,688.60 C76.67,689.37 73.33,690.38 70.00,690.90 C66.67,691.42 63.33,691.47 60.00,691.70 C56.67,691.93 52.78,692.18 50.00,692.30 C47.22,692.42 44.42,692.38 43.30,692.40 L43.30,692.42 C42.88,692.34 41.72,692.35 40.80,691.93 C39.88,691.50 38.90,691.02 37.80,689.86 C36.70,688.69 35.40,686.90 34.20,684.93 C33.00,682.96 31.80,680.17 30.60,678.04 C29.40,675.90 28.37,673.90 27.00,672.13 C25.63,670.35 23.17,668.19 22.40,667.40 Z" fill="#a50029"/>
<path d="M50.00,692.30 C51.67,692.20 56.67,691.93 60.00,691.70 C63.33,691.47 66.67,691.42 70.00,690.90 C73.33,690.38 76.67,689.37 80.00,688.60 C83.33,687.83 86.67,687.15 90.00,686.30 C93.33,685.45 96.67,684.53 100.00,683.50 C103.33,682.47 106.67,681.25 110.00,680.10 C113.33,678.95 116.67,677.87 120.00,676.60 C123.33,675.33 126.67,673.95 130.00,672.50 C133.33,671.05 136.67,669.33 140.00,667.90 C143.33,666.47 146.67,665.15 150.00,663.90 C153.33,662.65 156.67,661.47 160.00,660.40 C163.33,659.33 166.67,658.30 170.00,657.50 C173.33,656.70 176.67,656.08 180.00,655.60 C183.33,655.12 186.67,654.87 190.00,654.60 C193.33,654.33 195.65,654.13 200.00,654.00 C204.35,653.87 213.42,653.83 216.10,653.80 L216.1,704.2  C213.42,704.08 206.02,703.82 200.00,703.50 C193.98,703.18 186.67,702.75 180.00,702.30 C173.33,701.85 166.67,701.37 160.00,700.80 C153.33,700.23 145.00,699.42 140.00,698.90 C135.00,698.38 133.33,698.10 130.00,697.70 C126.67,697.30 123.33,696.88 120.00,696.50 C116.67,696.12 113.33,695.75 110.00,695.40 C106.67,695.05 103.33,694.67 100.00,694.40 C96.67,694.13 93.33,693.97 90.00,693.80 C86.67,693.63 83.33,693.53 80.00,693.40 C76.67,693.27 73.33,693.12 70.00,693.00 C66.67,692.88 63.67,692.81 60.00,692.70 C56.33,692.59 50.00,692.41 48.00,692.35 Z" fill="#4f5668"/>
<path d="M24,705.2 C30,700 32,693.5 38,693.0 L43.3,692.5 L48,692.35  C50.00,692.41 56.33,692.59 60.00,692.70 C63.67,692.81 66.67,692.88 70.00,693.00 C73.33,693.12 76.67,693.27 80.00,693.40 C83.33,693.53 86.67,693.63 90.00,693.80 C93.33,693.97 96.67,694.13 100.00,694.40 C103.33,694.67 106.67,695.05 110.00,695.40 C113.33,695.75 116.67,696.12 120.00,696.50 C123.33,696.88 126.67,697.30 130.00,697.70 C133.33,698.10 135.00,698.38 140.00,698.90 C145.00,699.42 153.33,700.23 160.00,700.80 C166.67,701.37 173.33,701.85 180.00,702.30 C186.67,702.75 193.98,703.18 200.00,703.50 C206.02,703.82 213.42,704.08 216.10,704.20 L216.1,708.8  C210.08,708.88 189.35,709.10 180.00,709.30 C170.65,709.50 166.67,709.67 160.00,710.00 C153.33,710.33 145.00,710.90 140.00,711.30 C135.00,711.70 133.33,712.02 130.00,712.40 C126.67,712.78 125.00,713.08 120.00,713.60 C115.00,714.12 106.67,714.92 100.00,715.50 C93.33,716.08 85.00,716.75 80.00,717.10 C75.00,717.45 71.67,717.52 70.00,717.60 L43.3,717.6 C33,717.6 31,710.5 24,705.2 Z" fill="#8d87c2"/>
<path d="M70.00,717.60 C71.67,717.52 75.00,717.45 80.00,717.10 C85.00,716.75 93.33,716.08 100.00,715.50 C106.67,714.92 115.00,714.12 120.00,713.60 C125.00,713.08 126.67,712.78 130.00,712.40 C133.33,712.02 135.00,711.70 140.00,711.30 C145.00,710.90 153.33,710.33 160.00,710.00 C166.67,709.67 170.65,709.50 180.00,709.30 C189.35,709.10 210.08,708.88 216.10,708.80 L216.1,715.3  C206.75,715.38 176.02,715.58 160.00,715.80 C143.98,716.02 132.50,716.30 120.00,716.60 C107.50,716.90 90.83,717.43 85.00,717.60 Z" fill="#e3931b"/>
<path d="M85,717.6 C120,716.6 160,715.8 216.1,715.3 L216.1,716.7 L85,717.7 Z" fill="#5ea6de"/>
<path d="M150,717.6 L216.1,716.7 L216.1,717.4 L150,717.7 Z" fill="#3d7a4a"/>
<line x1="43.50" y1="642.00" x2="43.50" y2="717.60" stroke="#151515" stroke-width="0.9" />
<text x="67.22" y="668.27" font-size="5.9" fill="#ffffff" textLength="8.65" lengthAdjust="spacingAndGlyphs" >WT</text>
<text x="59.02" y="708.27" font-size="5.9" fill="#f0eef8" textLength="16.15" lengthAdjust="spacingAndGlyphs" >SRSF2</text>
<text x="177.71" y="678.67" font-size="6.5" fill="#f4f4f6" textLength="16.09" lengthAdjust="spacingAndGlyphs" >SRSF2</text>
<text x="174.81" y="684.88" font-size="6.5" fill="#f4f4f6" textLength="21.99" lengthAdjust="spacingAndGlyphs" >FLT3-ITD</text>
<text x="159.91" y="714.84" font-size="6.4" fill="#fff2dc" textLength="52.08" lengthAdjust="spacingAndGlyphs" >SRSF2 / FLT3-N676K</text>
<g stroke="#444" stroke-width="0.9" fill="none">
<line x1="226.7" y1="672.75" x2="226.7" y2="718.1500000000001"/>
<line x1="252.6" y1="672.75" x2="252.6" y2="718.1500000000001"/>
<line x1="279.2" y1="672.75" x2="279.2" y2="718.1500000000001"/>
<line x1="305.4" y1="672.75" x2="305.4" y2="718.1500000000001"/>
<line x1="331.5" y1="672.75" x2="331.5" y2="718.1500000000001"/>
<line x1="356.8" y1="672.75" x2="356.8" y2="718.1500000000001"/>
<line x1="382.6" y1="672.75" x2="382.6" y2="718.1500000000001"/>
<line x1="408.3" y1="672.75" x2="408.3" y2="718.1500000000001"/>
<line x1="434.4" y1="672.75" x2="434.4" y2="718.1500000000001"/>
<line x1="460.7" y1="672.75" x2="460.7" y2="718.1500000000001"/>
<line x1="486.7" y1="672.75" x2="486.7" y2="718.1500000000001"/>
<line x1="513.1" y1="672.75" x2="513.1" y2="718.1500000000001"/>
<line x1="226.7" y1="673.2" x2="513.1" y2="673.2"/>
<line x1="226.7" y1="687.9" x2="513.1" y2="687.9"/>
<line x1="226.7" y1="702.9" x2="513.1" y2="702.9"/>
<line x1="226.7" y1="717.7" x2="513.1" y2="717.7"/>
</g>
<text x="239.65" y="682.55" font-size="6.3" fill="#111" text-anchor="middle" font-weight="bold" textLength="18.82" lengthAdjust="spacingAndGlyphs" >Sample</text>
<text x="265.90" y="682.55" font-size="6.3" fill="#111" text-anchor="middle" font-weight="bold" textLength="11.47" lengthAdjust="spacingAndGlyphs" >Date</text>
<text x="292.30" y="682.55" font-size="6.3" fill="#111" text-anchor="middle" font-weight="bold" textLength="19.12" lengthAdjust="spacingAndGlyphs" >Blast %</text>
<text x="318.45" y="682.55" font-size="6.3" fill="#a6002c" text-anchor="middle" font-weight="bold" textLength="8.23" lengthAdjust="spacingAndGlyphs" >WT</text>
<text x="344.15" y="679.24" font-size="6.4" fill="#4f5668" text-anchor="middle" textLength="18.15" lengthAdjust="spacingAndGlyphs" >SRSF2</text>
<text x="344.15" y="686.24" font-size="6.4" fill="#4f5668" text-anchor="middle" textLength="23.67" lengthAdjust="spacingAndGlyphs" >FLT3-ITD</text>
<text x="369.70" y="682.62" font-size="6.5" fill="#8a86c2" text-anchor="middle" textLength="18.44" lengthAdjust="spacingAndGlyphs" >SRSF2</text>
<text x="395.45" y="679.24" font-size="6.4" fill="#e08e1a" text-anchor="middle" textLength="18.15" lengthAdjust="spacingAndGlyphs" >SRSF2</text>
<text x="395.45" y="686.24" font-size="6.4" fill="#e08e1a" text-anchor="middle" textLength="24.50" lengthAdjust="spacingAndGlyphs" >FLT3-N676K</text>
<text x="421.35" y="679.24" font-size="6.4" fill="#2e6a48" text-anchor="middle" textLength="12.73" lengthAdjust="spacingAndGlyphs" >FLT3</text>
<text x="421.35" y="686.24" font-size="6.4" fill="#2e6a48" text-anchor="middle" textLength="17.53" lengthAdjust="spacingAndGlyphs" >D835H</text>
<text x="447.55" y="679.24" font-size="6.4" fill="#2f5f9a" text-anchor="middle" textLength="18.15" lengthAdjust="spacingAndGlyphs" >SRSF2</text>
<text x="447.55" y="686.24" font-size="6.4" fill="#2f5f9a" text-anchor="middle" textLength="24.50" lengthAdjust="spacingAndGlyphs" >NRAS-G13R</text>
<text x="473.70" y="679.17" font-size="6.2" fill="#4a2b75" text-anchor="middle" font-weight="bold" textLength="15.46" lengthAdjust="spacingAndGlyphs" >NRAS</text>
<text x="473.70" y="686.17" font-size="6.2" fill="#4a2b75" text-anchor="middle" font-weight="bold" textLength="14.25" lengthAdjust="spacingAndGlyphs" >G12A</text>
<text x="499.90" y="679.24" font-size="6.4" fill="#7a5aa0" text-anchor="middle" textLength="15.65" lengthAdjust="spacingAndGlyphs" >NRAS</text>
<text x="499.90" y="686.24" font-size="6.4" fill="#7a5aa0" text-anchor="middle" textLength="13.46" lengthAdjust="spacingAndGlyphs" >Q61k</text>
<text x="239.65" y="697.40" font-size="6.3" fill="#111" text-anchor="middle" font-weight="bold" textLength="17.65" lengthAdjust="spacingAndGlyphs" >Screen</text>
<text x="265.90" y="697.47" font-size="6.5" fill="#2a2a2a" text-anchor="middle" textLength="22.01" lengthAdjust="spacingAndGlyphs" >04/26/17</text>
<text x="292.30" y="697.47" font-size="6.5" fill="#2a2a2a" text-anchor="middle" textLength="12.89" lengthAdjust="spacingAndGlyphs" >29 %</text>
<text x="318.45" y="697.47" font-size="6.5" fill="#2a2a2a" text-anchor="middle" textLength="16.03" lengthAdjust="spacingAndGlyphs" >67.1%</text>
<text x="344.15" y="697.47" font-size="6.5" fill="#2a2a2a" text-anchor="middle" textLength="9.74" lengthAdjust="spacingAndGlyphs" >0 %</text>
<text x="369.70" y="697.47" font-size="6.5" fill="#2a2a2a" text-anchor="middle" textLength="16.03" lengthAdjust="spacingAndGlyphs" >32.8%</text>
<text x="395.45" y="697.47" font-size="6.5" fill="#2a2a2a" text-anchor="middle" textLength="14.46" lengthAdjust="spacingAndGlyphs" >0.1 %</text>
<text x="421.35" y="697.47" font-size="6.5" fill="#2a2a2a" text-anchor="middle" textLength="9.74" lengthAdjust="spacingAndGlyphs" >0 %</text>
<text x="447.55" y="697.47" font-size="6.5" fill="#2a2a2a" text-anchor="middle" textLength="17.61" lengthAdjust="spacingAndGlyphs" >35.8 %</text>
<text x="473.70" y="697.47" font-size="6.5" fill="#2a2a2a" text-anchor="middle" textLength="9.74" lengthAdjust="spacingAndGlyphs" >0 %</text>
<text x="499.90" y="697.47" font-size="6.5" fill="#2a2a2a" text-anchor="middle" textLength="9.74" lengthAdjust="spacingAndGlyphs" >0 %</text>
<text x="239.65" y="712.30" font-size="6.3" fill="#111" text-anchor="middle" font-weight="bold" textLength="20.30" lengthAdjust="spacingAndGlyphs" >Relapse</text>
<text x="265.90" y="712.37" font-size="6.5" fill="#2a2a2a" text-anchor="middle" textLength="22.01" lengthAdjust="spacingAndGlyphs" >07/06/17</text>
<text x="292.30" y="712.37" font-size="6.5" fill="#2a2a2a" text-anchor="middle" textLength="12.89" lengthAdjust="spacingAndGlyphs" >25 %</text>
<text x="318.45" y="712.37" font-size="6.5" fill="#2a2a2a" text-anchor="middle" textLength="17.61" lengthAdjust="spacingAndGlyphs" >15.5 %</text>
<text x="344.15" y="712.37" font-size="6.5" fill="#2a2a2a" text-anchor="middle" textLength="17.61" lengthAdjust="spacingAndGlyphs" >65.8 %</text>
<text x="369.70" y="712.37" font-size="6.5" fill="#2a2a2a" text-anchor="middle" textLength="14.46" lengthAdjust="spacingAndGlyphs" >7.0 %</text>
<text x="395.45" y="712.37" font-size="6.5" fill="#2a2a2a" text-anchor="middle" textLength="14.46" lengthAdjust="spacingAndGlyphs" >8.2 %</text>
<text x="421.35" y="712.37" font-size="6.5" fill="#2a2a2a" text-anchor="middle" textLength="14.46" lengthAdjust="spacingAndGlyphs" >1.6 %</text>
<text x="447.55" y="712.37" font-size="6.5" fill="#2a2a2a" text-anchor="middle" textLength="9.74" lengthAdjust="spacingAndGlyphs" >0 %</text>
<text x="473.70" y="712.37" font-size="6.5" fill="#2a2a2a" text-anchor="middle" textLength="14.46" lengthAdjust="spacingAndGlyphs" >0.3 %</text>
<text x="499.90" y="712.37" font-size="6.5" fill="#2a2a2a" text-anchor="middle" textLength="14.46" lengthAdjust="spacingAndGlyphs" >0.3 %</text>
<rect x="0" y="0" width="520" height="1" fill="#000"/><rect x="0" y="0" width="1" height="725" fill="#000"/><rect x="519" y="0" width="1" height="725" fill="#000"/><rect x="0" y="724" width="520" height="1" fill="#000"/><rect x="1" y="1" width="517" height="1" fill="#000" fill-opacity="0.13"/><rect x="1" y="2" width="1" height="722" fill="#000" fill-opacity="0.22"/><rect x="518" y="1" width="1" height="723" fill="#000" fill-opacity="0.35"/>
</svg>
</body></html>
